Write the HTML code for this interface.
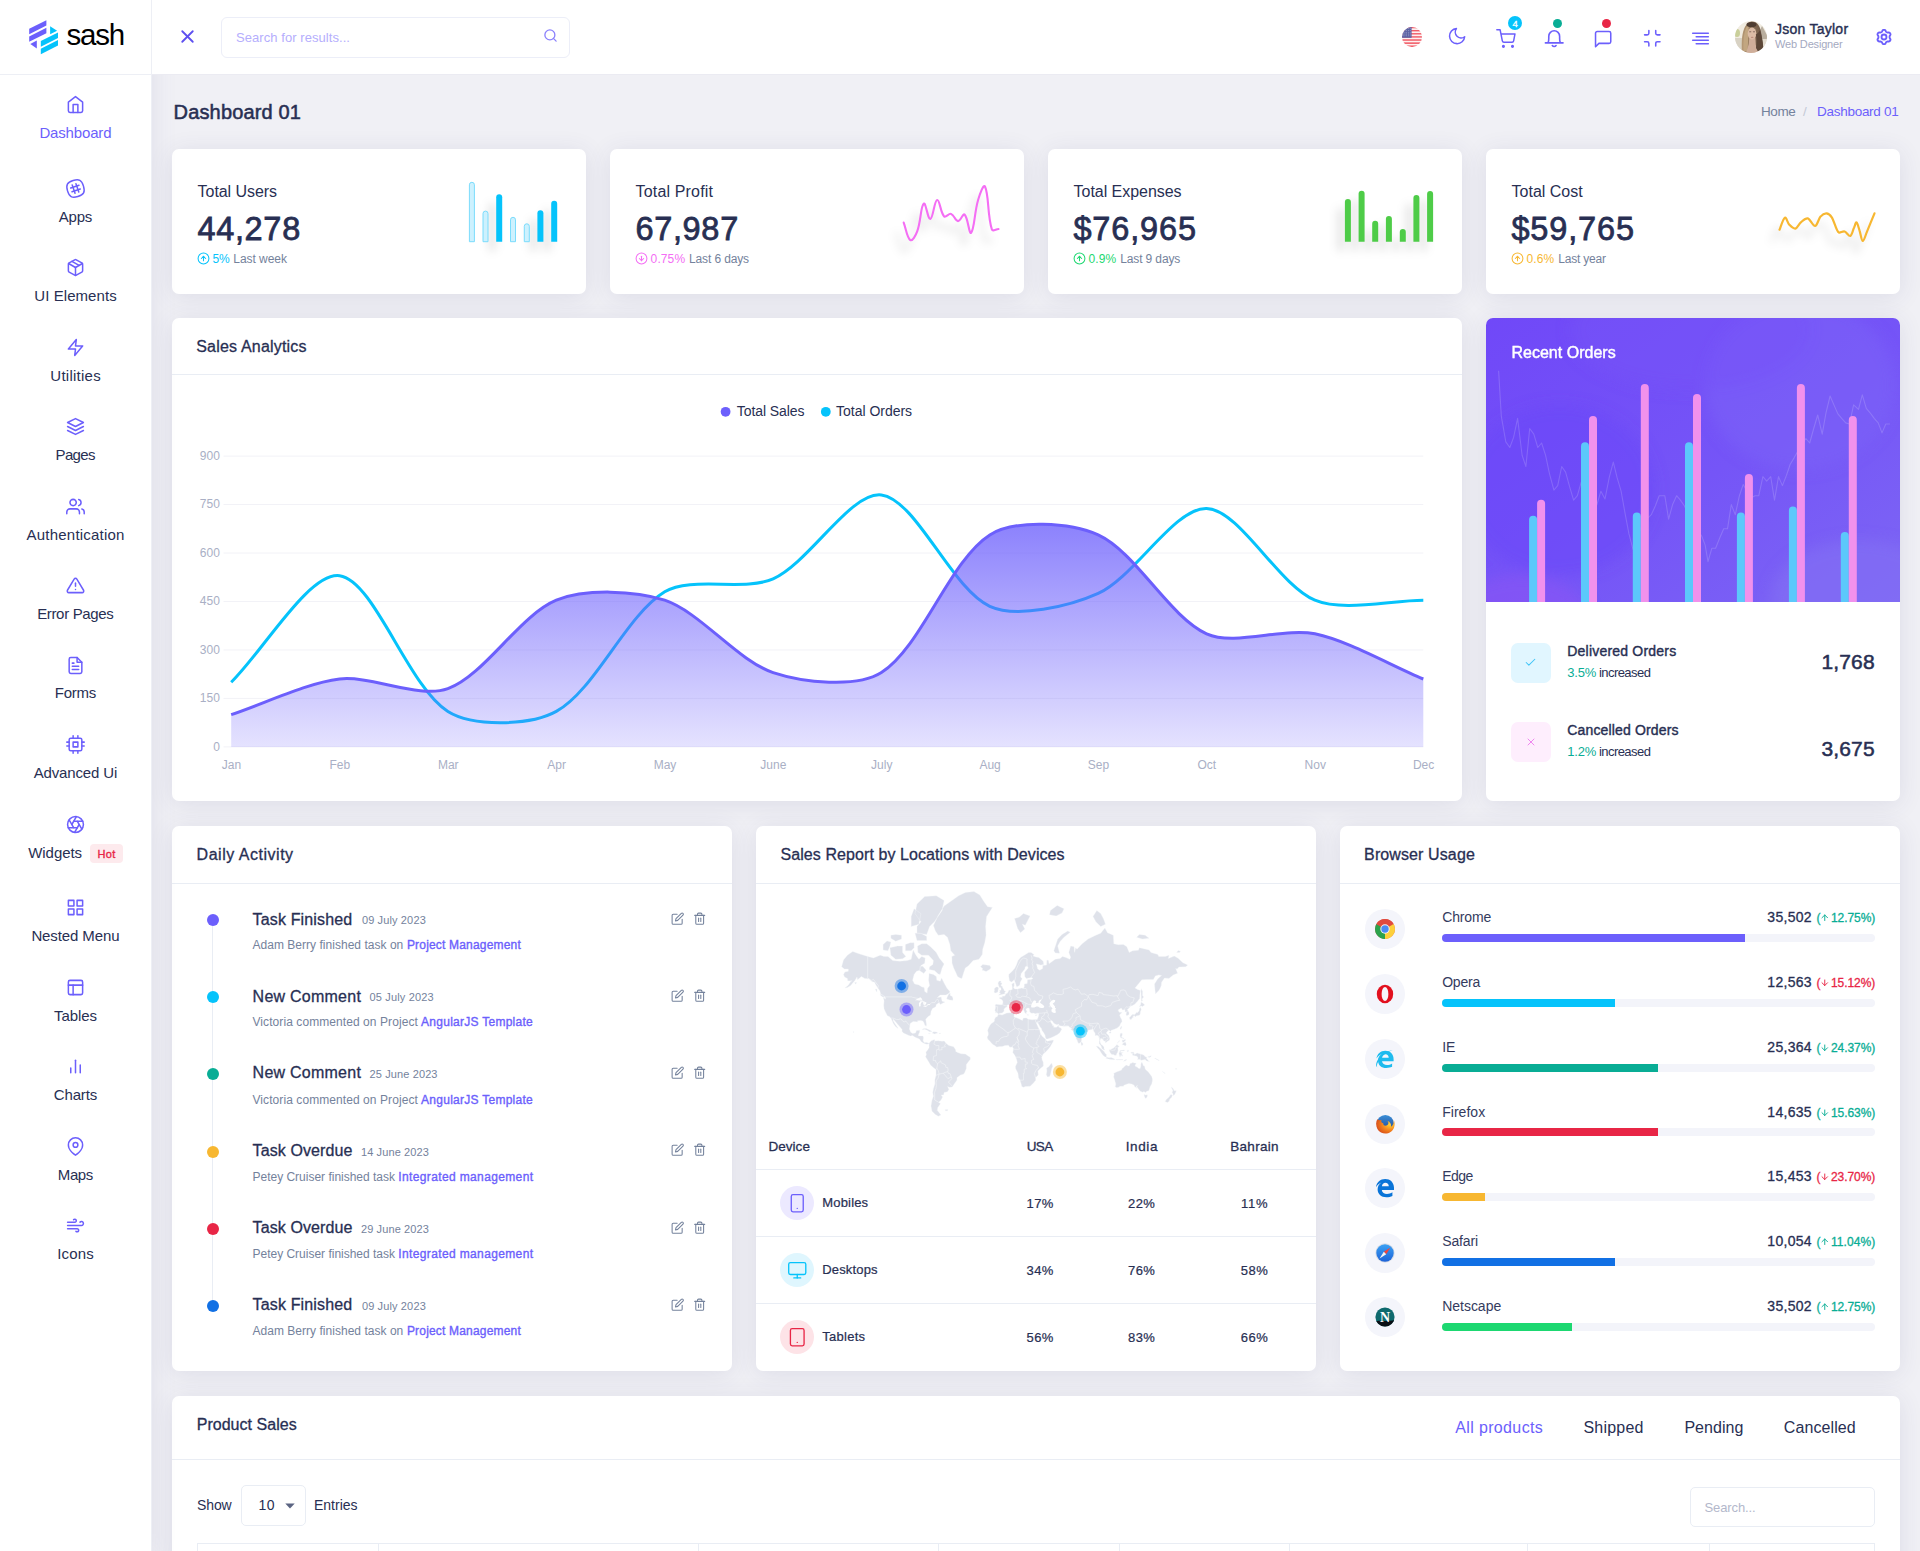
<!DOCTYPE html>
<html lang="en"><head><meta charset="utf-8"><title>Sash - Dashboard 01</title><style>
*{margin:0;padding:0}
html,body{width:1920px;height:1551px;overflow:hidden}
body{background:#f0f0f5;font-family:"Liberation Sans",sans-serif;color:#282f53;position:relative;-webkit-font-smoothing:antialiased}
.abs,.t,.ic{position:absolute}
.t{white-space:pre;line-height:1;font-weight:400;display:block}
h1,h2,h3,h6{font-weight:400}
.ic{display:block;overflow:visible}
.sidebar{background:#fff;box-sizing:border-box;border-right:1px solid #edeff5;box-shadow:0 8px 24px rgba(110,110,160,.12)}
.logo{box-sizing:border-box;border-bottom:1px solid #edeff5;border-right:1px solid #edeff5}
.hdr{background:#fff;box-sizing:border-box;border-bottom:1px solid #ebebf2}
.card{background:#fff;border-radius:7px;box-shadow:0 3px 24px rgba(60,60,110,.105)}
.chead{box-sizing:border-box;border-bottom:1px solid #e9edf4}
</style></head>
<body>
<main>
<section class="card abs" style="left:172px;top:149px;width:414px;height:145px">
<h6 class="t" style="top:34.56px;font-size:16px;left:25.60px;letter-spacing:-0.057px;">Total Users</h6>
<h2 class="t" style="top:64.29px;font-size:32.5px;left:25.40px;letter-spacing:0.682px;-webkit-text-stroke:0.77px currentColor;">44,278</h2>
<svg class="ic" style="left:24.70px;top:102.70px;" width="13" height="13" viewBox="0 0 24 24" fill="none" stroke="#05c3fb" stroke-width="1.9" stroke-linecap="round" stroke-linejoin="round"><circle cx="12" cy="12" r="10"/><polyline points="16 12 12 8 8 12"/><line x1="12" y1="16" x2="12" y2="8"/></svg>
<span class="t" style="top:103.94px;font-size:12px;left:40.60px;color:#05c3fb;letter-spacing:-0.272px;">5%</span>
<span class="t" style="top:103.94px;font-size:12px;left:61.30px;color:#74829c;letter-spacing:-0.048px;">Last week</span>
</section>
<section class="card abs" style="left:610px;top:149px;width:414px;height:145px">
<h6 class="t" style="top:34.56px;font-size:16px;left:25.60px;letter-spacing:0.159px;">Total Profit</h6>
<h2 class="t" style="top:64.29px;font-size:32.5px;left:25.40px;letter-spacing:0.682px;-webkit-text-stroke:0.77px currentColor;">67,987</h2>
<svg class="ic" style="left:24.70px;top:102.70px;" width="13" height="13" viewBox="0 0 24 24" fill="none" stroke="#f46ef4" stroke-width="1.9" stroke-linecap="round" stroke-linejoin="round"><circle cx="12" cy="12" r="10"/><polyline points="8 12 12 16 16 12"/><line x1="12" y1="8" x2="12" y2="16"/></svg>
<span class="t" style="top:103.94px;font-size:12px;left:40.60px;color:#f46ef4;letter-spacing:0.114px;">0.75%</span>
<span class="t" style="top:103.94px;font-size:12px;left:79.00px;color:#74829c;letter-spacing:-0.125px;">Last 6 days</span>
</section>
<section class="card abs" style="left:1048px;top:149px;width:414px;height:145px">
<h6 class="t" style="top:34.56px;font-size:16px;left:25.60px;letter-spacing:-0.037px;">Total Expenses</h6>
<h2 class="t" style="top:64.29px;font-size:32.5px;left:25.40px;letter-spacing:0.859px;-webkit-text-stroke:0.77px currentColor;">$76,965</h2>
<svg class="ic" style="left:24.70px;top:102.70px;" width="13" height="13" viewBox="0 0 24 24" fill="none" stroke="#1dd871" stroke-width="1.9" stroke-linecap="round" stroke-linejoin="round"><circle cx="12" cy="12" r="10"/><polyline points="16 12 12 8 8 12"/><line x1="12" y1="16" x2="12" y2="8"/></svg>
<span class="t" style="top:103.94px;font-size:12px;left:40.60px;color:#1dd871;letter-spacing:0.060px;">0.9%</span>
<span class="t" style="top:103.94px;font-size:12px;left:72.20px;color:#74829c;letter-spacing:-0.125px;">Last 9 days</span>
</section>
<section class="card abs" style="left:1486px;top:149px;width:414px;height:145px">
<h6 class="t" style="top:34.56px;font-size:16px;left:25.60px;letter-spacing:-0.014px;">Total Cost</h6>
<h2 class="t" style="top:64.29px;font-size:32.5px;left:25.40px;letter-spacing:0.859px;-webkit-text-stroke:0.77px currentColor;">$59,765</h2>
<svg class="ic" style="left:24.70px;top:102.70px;" width="13" height="13" viewBox="0 0 24 24" fill="none" stroke="#f7b731" stroke-width="1.9" stroke-linecap="round" stroke-linejoin="round"><circle cx="12" cy="12" r="10"/><polyline points="16 12 12 8 8 12"/><line x1="12" y1="16" x2="12" y2="8"/></svg>
<span class="t" style="top:103.94px;font-size:12px;left:40.60px;color:#f7b731;letter-spacing:0.060px;">0.6%</span>
<span class="t" style="top:103.94px;font-size:12px;left:72.20px;color:#74829c;letter-spacing:-0.184px;">Last year</span>
</section>
<svg class="ic" style="left:440px;top:160px" width="140" height="120" viewBox="440 160 140 120"><defs><filter id="sh1" x="-30%" y="-30%" width="160%" height="180%"><feGaussianBlur stdDeviation="5"/></filter></defs><g filter="url(#sh1)" fill="rgba(20,20,40,0.13)"><path d="M489.20,250.70V206.20A3.00,3.00 0 0 1 495.20,206.20V250.70Z"/><path d="M530.40,250.70V222.20A3.00,3.00 0 0 1 536.40,222.20V250.70Z"/><path d="M544.20,250.70V212.80A3.00,3.00 0 0 1 550.20,212.80V250.70Z"/></g><path d="M469.40,241.70V184.80A2.50,2.50 0 0 1 474.40,184.80V241.70Z" fill="#cdf1fe" stroke="#7bdcfc" stroke-width="1"/><path d="M483.00,241.70V213.60A2.50,2.50 0 0 1 488.00,213.60V241.70Z" fill="#cdf1fe" stroke="#7bdcfc" stroke-width="1"/><path d="M496.20,241.70V197.20A3.00,3.00 0 0 1 502.20,197.20V241.70Z" fill="#05c3fb"/><path d="M510.50,241.70V219.80A2.50,2.50 0 0 1 515.50,219.80V241.70Z" fill="#cdf1fe" stroke="#7bdcfc" stroke-width="1"/><path d="M524.30,241.70V226.30A2.50,2.50 0 0 1 529.30,226.30V241.70Z" fill="#cdf1fe" stroke="#7bdcfc" stroke-width="1"/><path d="M537.40,241.70V213.20A3.00,3.00 0 0 1 543.40,213.20V241.70Z" fill="#05c3fb"/><path d="M551.20,241.70V203.80A3.00,3.00 0 0 1 557.20,203.80V241.70Z" fill="#05c3fb"/></svg>
<svg class="ic" style="left:870px;top:160px" width="150" height="120" viewBox="870 160 150 120"><defs><filter id="sh2" x="-30%" y="-50%" width="160%" height="250%"><feGaussianBlur stdDeviation="4.5"/></filter></defs><path d="M903.7,222.6C906.3,229.6 906.9,237.9 910.3,240.1C912.3,241.4 915.7,235.5 917.2,231.4C921.1,220.9 920.5,206.7 923.8,203.6C925.7,201.8 927.9,219.7 930.3,219.0C933.2,218.2 934.2,200.6 937.2,200.0C939.8,199.5 940.3,212.5 944.2,216.4C945.8,218.0 948.8,213.1 951.1,213.9C954.3,215.0 955.2,221.0 958.0,221.1C960.6,221.2 962.9,213.1 964.6,214.6C968.1,217.8 969.1,234.9 971.1,232.8C974.5,229.1 974.3,212.8 978.1,200.0C979.8,194.2 983.6,183.5 985.0,186.5C989.1,195.3 987.2,214.7 991.9,229.5C992.6,231.7 995.9,229.2 998.5,229.0" fill="none" stroke="rgba(20,20,40,0.075)" stroke-width="4.1" stroke-linecap="round" filter="url(#sh2)" transform="translate(-7,11)"/><path d="M903.7,222.6C906.3,229.6 906.9,237.9 910.3,240.1C912.3,241.4 915.7,235.5 917.2,231.4C921.1,220.9 920.5,206.7 923.8,203.6C925.7,201.8 927.9,219.7 930.3,219.0C933.2,218.2 934.2,200.6 937.2,200.0C939.8,199.5 940.3,212.5 944.2,216.4C945.8,218.0 948.8,213.1 951.1,213.9C954.3,215.0 955.2,221.0 958.0,221.1C960.6,221.2 962.9,213.1 964.6,214.6C968.1,217.8 969.1,234.9 971.1,232.8C974.5,229.1 974.3,212.8 978.1,200.0C979.8,194.2 983.6,183.5 985.0,186.5C989.1,195.3 987.2,214.7 991.9,229.5C992.6,231.7 995.9,229.2 998.5,229.0" fill="none" stroke="#f46ef4" stroke-width="2.1" stroke-linecap="round" stroke-linejoin="round"/></svg>
<svg class="ic" style="left:1316px;top:160px" width="140" height="120" viewBox="1316 160 140 120"><defs><filter id="sh3" x="-30%" y="-30%" width="160%" height="180%"><feGaussianBlur stdDeviation="5"/></filter></defs><g filter="url(#sh3)" fill="rgba(20,20,40,0.13)"><path d="M1337.90,250.70V211.10A3.00,3.00 0 0 1 1343.90,211.10V250.70Z"/><path d="M1351.60,250.70V202.70A3.00,3.00 0 0 1 1357.60,202.70V250.70Z"/><path d="M1365.20,250.70V232.80A3.00,3.00 0 0 1 1371.20,232.80V250.70Z"/><path d="M1378.90,250.70V228.00A3.00,3.00 0 0 1 1384.90,228.00V250.70Z"/><path d="M1392.80,250.70V241.00A3.00,3.00 0 0 1 1398.80,241.00V250.70Z"/><path d="M1406.40,250.70V207.00A3.00,3.00 0 0 1 1412.40,207.00V250.70Z"/><path d="M1420.10,250.70V202.90A3.00,3.00 0 0 1 1426.10,202.90V250.70Z"/></g><path d="M1344.90,241.70V202.10A3.00,3.00 0 0 1 1350.90,202.10V241.70Z" fill="#4ecc48"/><path d="M1358.60,241.70V193.70A3.00,3.00 0 0 1 1364.60,193.70V241.70Z" fill="#4ecc48"/><path d="M1372.20,241.70V223.80A3.00,3.00 0 0 1 1378.20,223.80V241.70Z" fill="#4ecc48"/><path d="M1385.90,241.70V219.00A3.00,3.00 0 0 1 1391.90,219.00V241.70Z" fill="#4ecc48"/><path d="M1399.80,241.70V232.00A3.00,3.00 0 0 1 1405.80,232.00V241.70Z" fill="#4ecc48"/><path d="M1413.40,241.70V198.00A3.00,3.00 0 0 1 1419.40,198.00V241.70Z" fill="#4ecc48"/><path d="M1427.10,241.70V193.90A3.00,3.00 0 0 1 1433.10,193.90V241.70Z" fill="#4ecc48"/></svg>
<svg class="ic" style="left:1750px;top:170px" width="150" height="120" viewBox="1750 170 150 120"><defs><filter id="sh4" x="-30%" y="-50%" width="160%" height="250%"><feGaussianBlur stdDeviation="4.5"/></filter></defs><path d="M1779.5,229.7C1780.4,227.7 1783.2,218.5 1784.8,217.7C1786.4,216.8 1787.4,222.8 1789.2,224.6C1790.9,226.4 1793.4,229.0 1795.4,228.6C1797.3,228.2 1798.8,224.1 1800.8,222.4C1802.9,220.7 1805.4,217.8 1807.8,218.4C1810.1,219.0 1812.9,226.3 1815.1,226.0C1817.2,225.7 1818.6,218.7 1820.5,216.6C1822.4,214.4 1824.5,213.2 1826.4,213.3C1828.2,213.4 1830.1,214.7 1831.8,217.3C1833.5,219.9 1835.3,226.4 1836.6,229.0C1837.8,231.5 1837.8,232.2 1839.1,232.6C1840.5,233.0 1842.7,231.0 1844.6,231.5C1846.5,232.1 1848.8,236.6 1850.4,235.9C1852.0,235.2 1853.0,229.7 1854.1,227.5C1855.1,225.3 1855.7,221.9 1856.6,222.4C1857.5,222.9 1858.5,227.3 1859.5,230.4C1860.6,233.5 1861.5,240.9 1862.8,241.0C1864.1,241.1 1865.2,235.8 1867.2,231.1C1869.1,226.5 1873.3,216.3 1874.5,213.3" fill="none" stroke="rgba(20,20,40,0.075)" stroke-width="4.2" stroke-linecap="round" filter="url(#sh4)" transform="translate(-7,11)"/><path d="M1779.5,229.7C1780.4,227.7 1783.2,218.5 1784.8,217.7C1786.4,216.8 1787.4,222.8 1789.2,224.6C1790.9,226.4 1793.4,229.0 1795.4,228.6C1797.3,228.2 1798.8,224.1 1800.8,222.4C1802.9,220.7 1805.4,217.8 1807.8,218.4C1810.1,219.0 1812.9,226.3 1815.1,226.0C1817.2,225.7 1818.6,218.7 1820.5,216.6C1822.4,214.4 1824.5,213.2 1826.4,213.3C1828.2,213.4 1830.1,214.7 1831.8,217.3C1833.5,219.9 1835.3,226.4 1836.6,229.0C1837.8,231.5 1837.8,232.2 1839.1,232.6C1840.5,233.0 1842.7,231.0 1844.6,231.5C1846.5,232.1 1848.8,236.6 1850.4,235.9C1852.0,235.2 1853.0,229.7 1854.1,227.5C1855.1,225.3 1855.7,221.9 1856.6,222.4C1857.5,222.9 1858.5,227.3 1859.5,230.4C1860.6,233.5 1861.5,240.9 1862.8,241.0C1864.1,241.1 1865.2,235.8 1867.2,231.1C1869.1,226.5 1873.3,216.3 1874.5,213.3" fill="none" stroke="#f7b731" stroke-width="2.2" stroke-linecap="round" stroke-linejoin="round"/></svg>
<section class="card abs" style="left:172px;top:318px;width:1290px;height:483px">
<div class="abs chead" style="left:0;top:0;width:1290px;height:57px"></div>
<h3 class="t" style="top:20.76px;font-size:16px;left:24.20px;letter-spacing:0.193px;-webkit-text-stroke:0.3px currentColor;">Sales Analytics</h3>
</section>
<svg class="ic" style="left:172px;top:376px" width="1290" height="425" viewBox="172 376 1290 425"><defs><linearGradient id="sg" gradientUnits="userSpaceOnUse" x1="0" y1="500" x2="0" y2="750"><stop offset="0" stop-color="#6c5ffc" stop-opacity="0.85"/><stop offset="1" stop-color="#6c5ffc" stop-opacity="0.17"/></linearGradient></defs><line x1="223.5" x2="1423.3" y1="456.10" y2="456.10" stroke="#f2f2f7" stroke-width="1"/><line x1="223.5" x2="1423.3" y1="504.57" y2="504.57" stroke="#f2f2f7" stroke-width="1"/><line x1="223.5" x2="1423.3" y1="553.03" y2="553.03" stroke="#f2f2f7" stroke-width="1"/><line x1="223.5" x2="1423.3" y1="601.50" y2="601.50" stroke="#f2f2f7" stroke-width="1"/><line x1="223.5" x2="1423.3" y1="649.97" y2="649.97" stroke="#f2f2f7" stroke-width="1"/><line x1="223.5" x2="1423.3" y1="698.43" y2="698.43" stroke="#f2f2f7" stroke-width="1"/><line x1="223.5" x2="1423.3" y1="746.90" y2="746.90" stroke="#f2f2f7" stroke-width="1"/><path d="M231.2,682.3C263.7,650.3 309.2,571.6 339.6,575.7C374.2,580.3 407.9,686.3 447.9,711.4C472.9,727.0 530.2,725.8 556.3,711.4C595.2,689.9 625.9,615.5 664.7,591.8C690.9,575.8 744.2,591.8 773.1,578.9C809.3,562.7 851.0,491.0 881.4,494.9C916.0,499.3 951.6,589.0 989.8,606.3C1016.6,618.5 1069.4,606.4 1098.2,593.4C1134.5,577.0 1174.5,507.4 1206.6,508.4C1239.6,509.5 1278.0,584.6 1314.9,600.2C1343.1,612.1 1390.8,600.2 1423.3,600.2" fill="none" stroke="#05c3fb" stroke-width="3" stroke-linecap="butt" stroke-linejoin="round"/><path d="M231.2,714.6C263.7,703.9 306.3,683.0 339.6,679.0C371.3,675.3 419.5,699.1 447.9,688.7C484.5,675.4 519.7,615.2 556.3,600.2C584.7,588.6 635.2,590.3 664.7,600.2C700.2,612.1 737.6,660.7 773.1,672.6C802.6,682.4 856.6,688.4 881.4,672.6C921.6,647.1 949.6,560.5 989.8,534.9C1014.7,519.2 1070.6,522.3 1098.2,534.9C1135.6,552.0 1169.2,616.8 1206.6,633.8C1234.2,646.4 1283.7,627.3 1314.9,633.8C1348.7,640.9 1390.8,665.5 1423.3,679.0L1423.3,746.9L231.2,746.9Z" fill="url(#sg)"/><path d="M231.2,714.6C263.7,703.9 306.3,683.0 339.6,679.0C371.3,675.3 419.5,699.1 447.9,688.7C484.5,675.4 519.7,615.2 556.3,600.2C584.7,588.6 635.2,590.3 664.7,600.2C700.2,612.1 737.6,660.7 773.1,672.6C802.6,682.4 856.6,688.4 881.4,672.6C921.6,647.1 949.6,560.5 989.8,534.9C1014.7,519.2 1070.6,522.3 1098.2,534.9C1135.6,552.0 1169.2,616.8 1206.6,633.8C1234.2,646.4 1283.7,627.3 1314.9,633.8C1348.7,640.9 1390.8,665.5 1423.3,679.0" fill="none" stroke="#6c5ffc" stroke-width="3" stroke-linecap="butt" stroke-linejoin="round"/><circle cx="725.6" cy="411.8" r="4.9" fill="#6c5ffc"/><circle cx="825.8" cy="411.8" r="4.9" fill="#05c3fb"/></svg>
<span class="t" style="top:404.05px;font-size:14px;left:736.80px;letter-spacing:-0.071px;">Total Sales</span>
<span class="t" style="top:404.05px;font-size:14px;left:836.10px;letter-spacing:-0.021px;">Total Orders</span>
<span class="t" style="top:449.94px;font-size:12px;left:199.87px;color:#a9afc5;">900</span>
<span class="t" style="top:498.41px;font-size:12px;left:199.87px;color:#a9afc5;">750</span>
<span class="t" style="top:546.88px;font-size:12px;left:199.87px;color:#a9afc5;">600</span>
<span class="t" style="top:595.34px;font-size:12px;left:199.87px;color:#a9afc5;">450</span>
<span class="t" style="top:643.81px;font-size:12px;left:199.87px;color:#a9afc5;">300</span>
<span class="t" style="top:692.28px;font-size:12px;left:199.87px;color:#a9afc5;">150</span>
<span class="t" style="top:740.74px;font-size:12px;left:213.21px;color:#a9afc5;">0</span>
<span class="t" style="top:758.94px;font-size:12px;left:221.82px;color:#a9afc5;">Jan</span>
<span class="t" style="top:758.94px;font-size:12px;left:329.53px;color:#a9afc5;">Feb</span>
<span class="t" style="top:758.94px;font-size:12px;left:437.91px;color:#a9afc5;">Mar</span>
<span class="t" style="top:758.94px;font-size:12px;left:547.27px;color:#a9afc5;">Apr</span>
<span class="t" style="top:758.94px;font-size:12px;left:653.65px;color:#a9afc5;">May</span>
<span class="t" style="top:758.94px;font-size:12px;left:760.35px;color:#a9afc5;">June</span>
<span class="t" style="top:758.94px;font-size:12px;left:871.06px;color:#a9afc5;">July</span>
<span class="t" style="top:758.94px;font-size:12px;left:979.43px;color:#a9afc5;">Aug</span>
<span class="t" style="top:758.94px;font-size:12px;left:1087.80px;color:#a9afc5;">Sep</span>
<span class="t" style="top:758.94px;font-size:12px;left:1197.52px;color:#a9afc5;">Oct</span>
<span class="t" style="top:758.94px;font-size:12px;left:1304.56px;color:#a9afc5;">Nov</span>
<span class="t" style="top:758.94px;font-size:12px;left:1412.93px;color:#a9afc5;">Dec</span>
<section class="card abs" style="left:1486px;top:318px;width:414px;height:483px;overflow:hidden">
<svg class="ic" style="left:0;top:0;overflow:hidden" width="414" height="284" viewBox="1486 318 414 284"><defs><linearGradient id="pg" x1="0" y1="0" x2="1" y2="1"><stop offset="0" stop-color="#7048f8"/><stop offset="0.55" stop-color="#7555f7"/><stop offset="1" stop-color="#7d66f4"/></linearGradient><filter id="pb" x="-20%" y="-20%" width="140%" height="140%"><feGaussianBlur stdDeviation="7"/></filter></defs><rect x="1486" y="318" width="414" height="284" fill="url(#pg)"/><g filter="url(#pb)"><ellipse cx="1560" cy="490" rx="95" ry="85" fill="#6848f9" opacity="0.5"/><ellipse cx="1800" cy="385" rx="95" ry="85" fill="#7c63f7" opacity="0.55"/><ellipse cx="1690" cy="330" rx="120" ry="60" fill="#7552f8" opacity="0.5"/><ellipse cx="1520" cy="620" rx="70" ry="45" fill="#8a55f3" opacity="0.6"/><ellipse cx="1860" cy="600" rx="90" ry="60" fill="#8470f3" opacity="0.6"/></g><polyline points="1498.6,370.7 1501.3,416.1 1505.8,441.9 1509.8,447.5 1513.6,437.4 1517.6,418.4 1522.1,455.3 1525.9,466.5 1529.7,428.5 1533.8,434.1 1537.8,447.5 1541.6,443.0 1545.6,455.3 1549.4,473.3 1553.9,490.1 1557.7,485.6 1561.7,466.5 1565.6,472.1 1569.6,486.7 1573.6,500.1 1577.4,495.7 1581.2,482.2 1585.3,488.9 1589.3,502.4 1593.1,513.6 1596.9,504.6 1600.9,491.2 1605.0,499.0 1609.2,477.7 1613.3,462.1 1617.1,477.7 1621.1,491.2 1625.1,513.6 1628.9,533.7 1633.0,549.4 1636.8,538.2 1641.3,527.0 1645.7,520.3 1651.3,514.7 1655.4,505.7 1659.2,495.7 1664.8,495.7 1668.6,519.2 1672.6,504.6 1676.6,495.7 1680.4,500.1 1684.3,505.7 1688.3,513.6 1692.8,522.5 1697.2,529.2 1701.7,536.0 1705.1,544.9 1708.0,561.7 1711.8,548.3 1715.6,548.3 1719.6,538.2 1723.7,528.8 1727.5,528.8 1731.3,504.6 1735.3,514.7 1739.4,495.7 1743.2,484.5 1747.0,491.2 1751.0,497.9 1755.0,495.7 1758.8,495.7 1762.9,476.6 1766.7,481.1 1770.7,476.6 1774.5,500.1 1778.5,476.6 1782.4,485.6 1786.4,475.5 1790.2,464.3 1794.2,457.6 1798.0,450.9 1802.1,444.1 1805.9,438.5 1809.7,443.0 1813.7,428.5 1817.7,415.0 1822.2,434.1 1826.0,412.8 1830.1,396.0 1833.9,404.9 1837.9,413.9 1841.7,418.4 1845.7,422.9 1849.5,424.0 1853.6,404.9 1858.5,409.4 1862.3,394.9 1866.3,408.3 1870.1,412.8 1874.2,418.4 1878.2,422.9 1882.0,432.9 1885.8,424.0 1889.9,424.0" fill="none" stroke="#fff" stroke-opacity="0.16" stroke-width="1.1" stroke-linejoin="round"/><path d="M1529.1,603V519.8a4,4 0 0 1 8,0V603Z" fill="#5cc8fb"/><path d="M1581.0,603V446.3a4,4 0 0 1 8,0V603Z" fill="#5cc8fb"/><path d="M1632.8,603V516.4a4,4 0 0 1 8,0V603Z" fill="#5cc8fb"/><path d="M1685.0,603V446.3a4,4 0 0 1 8,0V603Z" fill="#5cc8fb"/><path d="M1736.9,603V516.4a4,4 0 0 1 8,0V603Z" fill="#5cc8fb"/><path d="M1788.9,603V510.4a4,4 0 0 1 8,0V603Z" fill="#5cc8fb"/><path d="M1840.8,603V535.9a4,4 0 0 1 8,0V603Z" fill="#5cc8fb"/><path d="M1537.1,603V503.7a4,4 0 0 1 8,0V603Z" fill="#f191ec"/><path d="M1589.0,603V420.1a4,4 0 0 1 8,0V603Z" fill="#f191ec"/><path d="M1640.8,603V388.1a4,4 0 0 1 8,0V603Z" fill="#f191ec"/><path d="M1693.0,603V398.0a4,4 0 0 1 8,0V603Z" fill="#f191ec"/><path d="M1744.9,603V478.1a4,4 0 0 1 8,0V603Z" fill="#f191ec"/><path d="M1796.9,603V388.1a4,4 0 0 1 8,0V603Z" fill="#f191ec"/><path d="M1848.8,603V420.1a4,4 0 0 1 8,0V603Z" fill="#f191ec"/></svg>
<h3 class="t" style="top:27.36px;font-size:16px;left:25.40px;color:#fff;letter-spacing:0.019px;-webkit-text-stroke:0.44px currentColor;">Recent Orders</h3>
<span class="abs" style="left:25px;top:325px;width:40px;height:40px;border-radius:7px;background:#e1f6ff"></span>
<svg class="ic" style="left:38.40px;top:338.00px;" width="13" height="13" viewBox="0 0 24 24" fill="none" stroke="#3fc4f7" stroke-width="1.9" stroke-linecap="round" stroke-linejoin="round"><polyline points="20 6 9 17 4 12"/></svg>
<span class="t" style="top:326.15px;font-size:14px;left:81.30px;letter-spacing:0.204px;-webkit-text-stroke:0.4px currentColor;">Delivered Orders</span>
<span class="t" style="top:348.30px;font-size:13px;left:81.30px;color:#09ad95;letter-spacing:-0.235px;">3.5%</span>
<span class="t" style="top:348.30px;font-size:13px;left:113.00px;letter-spacing:-0.564px;">increased</span>
<span class="t" style="top:333.12px;font-size:21px;left:335.53px;letter-spacing:0.128px;-webkit-text-stroke:0.54px currentColor;">1,768</span>
<span class="abs" style="left:25px;top:404px;width:40px;height:40px;border-radius:7px;background:#feeefd"></span>
<svg class="ic" style="left:38.90px;top:417.50px;" width="12" height="12" viewBox="0 0 24 24" fill="none" stroke="#ee82ee" stroke-width="1.9" stroke-linecap="round" stroke-linejoin="round"><line x1="18" y1="6" x2="6" y2="18"/><line x1="6" y1="6" x2="18" y2="18"/></svg>
<span class="t" style="top:405.15px;font-size:14px;left:81.30px;letter-spacing:0.154px;-webkit-text-stroke:0.4px currentColor;">Cancelled Orders</span>
<span class="t" style="top:426.70px;font-size:13px;left:81.30px;color:#09ad95;letter-spacing:-0.235px;">1.2%</span>
<span class="t" style="top:426.70px;font-size:13px;left:113.00px;letter-spacing:-0.564px;">increased</span>
<span class="t" style="top:420.32px;font-size:21px;left:335.53px;letter-spacing:0.128px;-webkit-text-stroke:0.54px currentColor;">3,675</span>
</section>
<section class="card abs" style="left:172px;top:826px;width:560px;height:545px">
<div class="abs chead" style="left:0;top:0;width:560px;height:58px"></div>
<h3 class="t" style="top:21.06px;font-size:16px;left:24.60px;letter-spacing:0.515px;-webkit-text-stroke:0.3px currentColor;">Daily Activity</h3>
<span class="abs" style="left:40.2px;top:94px;width:1px;height:386px;background:#e9edf4"></span>
<span class="abs" style="left:35px;top:87.9px;width:12px;height:12px;border-radius:50%;background:#6c5ffc"></span>
<h6 class="t" style="top:85.56px;font-size:16px;left:80.60px;letter-spacing:0.144px;-webkit-text-stroke:0.3px currentColor;">Task Finished</h6>
<span class="t" style="top:88.99px;font-size:11px;left:189.90px;color:#74829c;letter-spacing:0.134px;">09 July 2023</span>
<span class="t" style="top:112.74px;font-size:12px;left:80.50px;color:#74829c;letter-spacing:0.027px;">Adam Berry finished task on</span>
<span class="t" style="top:112.74px;font-size:12px;left:234.90px;color:#6c5ffc;letter-spacing:0.187px;-webkit-text-stroke:0.36px currentColor;">Project Management</span>
<svg class="ic" style="left:499.30px;top:85.70px;" width="13.4" height="13.4" viewBox="0 0 24 24" fill="none" stroke="#74829c" stroke-width="1.9" stroke-linecap="round" stroke-linejoin="round"><path d="M11 4H4a2 2 0 0 0-2 2v14a2 2 0 0 0 2 2h14a2 2 0 0 0 2-2v-7"/><path d="M18.5 2.5a2.121 2.121 0 0 1 3 3L12 15l-4 1 1-4 9.5-9.5z"/></svg>
<svg class="ic" style="left:521.30px;top:85.70px;" width="13.4" height="13.4" viewBox="0 0 24 24" fill="none" stroke="#74829c" stroke-width="1.9" stroke-linecap="round" stroke-linejoin="round"><polyline points="3 6 5 6 21 6"/><path d="M19 6v14a2 2 0 0 1-2 2H7a2 2 0 0 1-2-2V6m3 0V4a2 2 0 0 1 2-2h4a2 2 0 0 1 2 2v2"/><line x1="10" y1="11" x2="10" y2="17"/><line x1="14" y1="11" x2="14" y2="17"/></svg>
<span class="abs" style="left:35px;top:164.9px;width:12px;height:12px;border-radius:50%;background:#05c3fb"></span>
<h6 class="t" style="top:162.56px;font-size:16px;left:80.60px;letter-spacing:0.244px;-webkit-text-stroke:0.3px currentColor;">New Comment</h6>
<span class="t" style="top:165.99px;font-size:11px;left:197.50px;color:#74829c;letter-spacing:0.167px;">05 July 2023</span>
<span class="t" style="top:189.54px;font-size:12px;left:80.50px;color:#74829c;letter-spacing:0.076px;">Victoria commented on Project</span>
<span class="t" style="top:189.54px;font-size:12px;left:249.10px;color:#6c5ffc;letter-spacing:0.262px;-webkit-text-stroke:0.36px currentColor;">AngularJS Template</span>
<svg class="ic" style="left:499.30px;top:162.70px;" width="13.4" height="13.4" viewBox="0 0 24 24" fill="none" stroke="#74829c" stroke-width="1.9" stroke-linecap="round" stroke-linejoin="round"><path d="M11 4H4a2 2 0 0 0-2 2v14a2 2 0 0 0 2 2h14a2 2 0 0 0 2-2v-7"/><path d="M18.5 2.5a2.121 2.121 0 0 1 3 3L12 15l-4 1 1-4 9.5-9.5z"/></svg>
<svg class="ic" style="left:521.30px;top:162.70px;" width="13.4" height="13.4" viewBox="0 0 24 24" fill="none" stroke="#74829c" stroke-width="1.9" stroke-linecap="round" stroke-linejoin="round"><polyline points="3 6 5 6 21 6"/><path d="M19 6v14a2 2 0 0 1-2 2H7a2 2 0 0 1-2-2V6m3 0V4a2 2 0 0 1 2-2h4a2 2 0 0 1 2 2v2"/><line x1="10" y1="11" x2="10" y2="17"/><line x1="14" y1="11" x2="14" y2="17"/></svg>
<span class="abs" style="left:35px;top:241.8px;width:12px;height:12px;border-radius:50%;background:#09ad95"></span>
<h6 class="t" style="top:239.46px;font-size:16px;left:80.60px;letter-spacing:0.244px;-webkit-text-stroke:0.3px currentColor;">New Comment</h6>
<span class="t" style="top:242.89px;font-size:11px;left:197.50px;color:#74829c;letter-spacing:0.119px;">25 June 2023</span>
<span class="t" style="top:267.64px;font-size:12px;left:80.50px;color:#74829c;letter-spacing:0.076px;">Victoria commented on Project</span>
<span class="t" style="top:267.64px;font-size:12px;left:249.10px;color:#6c5ffc;letter-spacing:0.262px;-webkit-text-stroke:0.36px currentColor;">AngularJS Template</span>
<svg class="ic" style="left:499.30px;top:239.60px;" width="13.4" height="13.4" viewBox="0 0 24 24" fill="none" stroke="#74829c" stroke-width="1.9" stroke-linecap="round" stroke-linejoin="round"><path d="M11 4H4a2 2 0 0 0-2 2v14a2 2 0 0 0 2 2h14a2 2 0 0 0 2-2v-7"/><path d="M18.5 2.5a2.121 2.121 0 0 1 3 3L12 15l-4 1 1-4 9.5-9.5z"/></svg>
<svg class="ic" style="left:521.30px;top:239.60px;" width="13.4" height="13.4" viewBox="0 0 24 24" fill="none" stroke="#74829c" stroke-width="1.9" stroke-linecap="round" stroke-linejoin="round"><polyline points="3 6 5 6 21 6"/><path d="M19 6v14a2 2 0 0 1-2 2H7a2 2 0 0 1-2-2V6m3 0V4a2 2 0 0 1 2-2h4a2 2 0 0 1 2 2v2"/><line x1="10" y1="11" x2="10" y2="17"/><line x1="14" y1="11" x2="14" y2="17"/></svg>
<span class="abs" style="left:35px;top:319.6px;width:12px;height:12px;border-radius:50%;background:#f7b731"></span>
<h6 class="t" style="top:317.26px;font-size:16px;left:80.60px;letter-spacing:0.098px;-webkit-text-stroke:0.3px currentColor;">Task Overdue</h6>
<span class="t" style="top:320.69px;font-size:11px;left:188.90px;color:#74829c;letter-spacing:0.119px;">14 June 2023</span>
<span class="t" style="top:344.74px;font-size:12px;left:80.50px;color:#74829c;letter-spacing:-0.009px;">Petey Cruiser finished task</span>
<span class="t" style="top:344.74px;font-size:12px;left:226.30px;color:#6c5ffc;letter-spacing:0.366px;-webkit-text-stroke:0.36px currentColor;">Integrated management</span>
<svg class="ic" style="left:499.30px;top:317.40px;" width="13.4" height="13.4" viewBox="0 0 24 24" fill="none" stroke="#74829c" stroke-width="1.9" stroke-linecap="round" stroke-linejoin="round"><path d="M11 4H4a2 2 0 0 0-2 2v14a2 2 0 0 0 2 2h14a2 2 0 0 0 2-2v-7"/><path d="M18.5 2.5a2.121 2.121 0 0 1 3 3L12 15l-4 1 1-4 9.5-9.5z"/></svg>
<svg class="ic" style="left:521.30px;top:317.40px;" width="13.4" height="13.4" viewBox="0 0 24 24" fill="none" stroke="#74829c" stroke-width="1.9" stroke-linecap="round" stroke-linejoin="round"><polyline points="3 6 5 6 21 6"/><path d="M19 6v14a2 2 0 0 1-2 2H7a2 2 0 0 1-2-2V6m3 0V4a2 2 0 0 1 2-2h4a2 2 0 0 1 2 2v2"/><line x1="10" y1="11" x2="10" y2="17"/><line x1="14" y1="11" x2="14" y2="17"/></svg>
<span class="abs" style="left:35px;top:396.7px;width:12px;height:12px;border-radius:50%;background:#e82646"></span>
<h6 class="t" style="top:394.36px;font-size:16px;left:80.60px;letter-spacing:0.098px;-webkit-text-stroke:0.3px currentColor;">Task Overdue</h6>
<span class="t" style="top:397.79px;font-size:11px;left:188.90px;color:#74829c;letter-spacing:0.119px;">29 June 2023</span>
<span class="t" style="top:421.54px;font-size:12px;left:80.50px;color:#74829c;letter-spacing:-0.009px;">Petey Cruiser finished task</span>
<span class="t" style="top:421.54px;font-size:12px;left:226.30px;color:#6c5ffc;letter-spacing:0.366px;-webkit-text-stroke:0.36px currentColor;">Integrated management</span>
<svg class="ic" style="left:499.30px;top:394.50px;" width="13.4" height="13.4" viewBox="0 0 24 24" fill="none" stroke="#74829c" stroke-width="1.9" stroke-linecap="round" stroke-linejoin="round"><path d="M11 4H4a2 2 0 0 0-2 2v14a2 2 0 0 0 2 2h14a2 2 0 0 0 2-2v-7"/><path d="M18.5 2.5a2.121 2.121 0 0 1 3 3L12 15l-4 1 1-4 9.5-9.5z"/></svg>
<svg class="ic" style="left:521.30px;top:394.50px;" width="13.4" height="13.4" viewBox="0 0 24 24" fill="none" stroke="#74829c" stroke-width="1.9" stroke-linecap="round" stroke-linejoin="round"><polyline points="3 6 5 6 21 6"/><path d="M19 6v14a2 2 0 0 1-2 2H7a2 2 0 0 1-2-2V6m3 0V4a2 2 0 0 1 2-2h4a2 2 0 0 1 2 2v2"/><line x1="10" y1="11" x2="10" y2="17"/><line x1="14" y1="11" x2="14" y2="17"/></svg>
<span class="abs" style="left:35px;top:473.8px;width:12px;height:12px;border-radius:50%;background:#1170e4"></span>
<h6 class="t" style="top:471.46px;font-size:16px;left:80.60px;letter-spacing:0.144px;-webkit-text-stroke:0.3px currentColor;">Task Finished</h6>
<span class="t" style="top:474.89px;font-size:11px;left:189.90px;color:#74829c;letter-spacing:0.134px;">09 July 2023</span>
<span class="t" style="top:498.54px;font-size:12px;left:80.50px;color:#74829c;letter-spacing:0.027px;">Adam Berry finished task on</span>
<span class="t" style="top:498.54px;font-size:12px;left:234.90px;color:#6c5ffc;letter-spacing:0.187px;-webkit-text-stroke:0.36px currentColor;">Project Management</span>
<svg class="ic" style="left:499.30px;top:471.60px;" width="13.4" height="13.4" viewBox="0 0 24 24" fill="none" stroke="#74829c" stroke-width="1.9" stroke-linecap="round" stroke-linejoin="round"><path d="M11 4H4a2 2 0 0 0-2 2v14a2 2 0 0 0 2 2h14a2 2 0 0 0 2-2v-7"/><path d="M18.5 2.5a2.121 2.121 0 0 1 3 3L12 15l-4 1 1-4 9.5-9.5z"/></svg>
<svg class="ic" style="left:521.30px;top:471.60px;" width="13.4" height="13.4" viewBox="0 0 24 24" fill="none" stroke="#74829c" stroke-width="1.9" stroke-linecap="round" stroke-linejoin="round"><polyline points="3 6 5 6 21 6"/><path d="M19 6v14a2 2 0 0 1-2 2H7a2 2 0 0 1-2-2V6m3 0V4a2 2 0 0 1 2-2h4a2 2 0 0 1 2 2v2"/><line x1="10" y1="11" x2="10" y2="17"/><line x1="14" y1="11" x2="14" y2="17"/></svg>
</section>
<section class="card abs" style="left:756px;top:826px;width:560px;height:545px">
<div class="abs chead" style="left:0;top:0;width:560px;height:58px"></div>
<h3 class="t" style="top:21.06px;font-size:16px;left:24.40px;letter-spacing:0.086px;-webkit-text-stroke:0.3px currentColor;">Sales Report by Locations with Devices</h3>
<svg class="ic" style="left:74px;top:60px" width="372" height="240" viewBox="830 886 372 240"><path d="M841.6,966.8L843.5,959.9L847.4,955.2L852.7,951.5L859.0,953.8L867.7,956.4L873.5,958.0L880.2,955.2L884.1,956.6L888.0,956.6L892.8,960.6L899.6,961.2L907.3,960.6L911.2,959.3L913.1,949.9L916.0,955.2L918.9,959.3L921.8,956.6L925.2,958.0L924.7,963.2L920.9,965.6L919.9,970.2L916.5,971.3L914.1,974.4L912.6,980.3L914.6,984.0L918.9,984.9L921.8,986.9L924.2,987.4L924.7,991.5L927.1,993.1L927.6,988.3L929.6,985.7L928.6,980.3L929.1,973.4L933.4,974.4L936.3,976.5L936.8,980.3L940.2,981.3L941.6,977.9L944.1,983.1L947.0,988.3L949.9,991.5L949.4,993.1L946.0,995.1L940.2,995.1L937.3,997.6L941.2,996.9L941.6,999.1L942.1,1001.2L945.0,1001.9L942.1,1003.5L940.2,1004.6L939.2,1002.6L936.3,1004.6L935.8,1006.8L932.5,1008.5L931.0,1011.6L930.5,1015.0L928.1,1016.6L925.7,1019.3L926.5,1024.3L926.3,1026.2L924.9,1025.3L923.9,1022.6L922.8,1021.0L920.9,1020.6L917.5,1020.7L917.6,1022.1L916.0,1021.7L913.1,1021.5L910.2,1023.4L909.9,1025.9L909.4,1029.1L910.7,1032.2L912.6,1033.5L915.5,1033.1L916.5,1030.6L919.9,1030.2L919.4,1032.7L918.6,1034.2L918.4,1035.9L922.8,1035.9L923.5,1036.9L923.1,1040.7L924.2,1042.5L926.7,1042.5L929.1,1043.2L928.6,1044.1L926.7,1044.3L925.2,1043.8L923.8,1043.3L921.3,1041.7L919.4,1038.9L917.0,1038.0L914.8,1037.1L912.6,1035.5L910.2,1035.9L907.3,1034.8L903.4,1032.9L902.0,1031.3L902.1,1029.6L899.6,1026.4L897.2,1023.7L894.9,1021.0L893.1,1019.1L893.3,1021.0L895.7,1024.8L897.6,1027.5L898.1,1028.5L895.7,1026.7L893.3,1023.4L892.3,1021.0L890.8,1018.1L889.4,1016.4L887.4,1015.8L886.0,1013.1L885.5,1011.9L884.1,1008.9L883.7,1005.3L884.1,1000.9L883.4,997.8L885.6,999.1L885.1,996.9L883.1,995.4L880.7,993.9L879.8,990.7L878.0,988.3L876.4,985.7L874.4,982.2L872.0,981.6L869.1,978.8L864.8,978.4L861.4,976.5L857.5,979.8L857.0,976.9L855.1,980.3L852.7,983.1L850.7,985.4L847.4,987.4L844.9,988.1L848.3,985.2L850.7,981.6L852.2,980.7L847.8,980.9L847.4,978.4L844.5,976.9L843.5,974.4L844.9,971.9L848.3,971.3L848.3,969.1L844.5,969.1ZM926.7,943.7L930.5,946.7L936.3,952.4L939.2,958.0L944.1,963.9L942.1,967.9L940.2,974.4L938.3,974.0L934.4,970.6L929.1,969.5L929.6,966.8L932.9,964.4L933.4,960.6L928.6,955.2L921.8,955.2L917.9,952.4L917.5,946.1L921.8,943.7ZM890.9,955.2L895.7,959.3L902.5,958.8L905.9,956.6L902.5,952.4L902.5,946.1L897.6,946.1L889.9,947.7ZM883.1,949.9L888.0,950.8L889.9,946.1L890.9,942.0L887.0,940.9L883.1,944.4ZM917.0,933.2L926.7,934.4L929.6,926.6L934.4,921.7L942.1,910.6L944.1,900.4L936.3,895.8L924.7,896.6L917.0,904.0L915.0,913.6L920.9,921.7L917.0,926.6ZM915.0,933.2L917.0,940.5L926.7,940.5L926.7,936.4L920.9,933.2ZM890.9,938.3L895.7,941.3L901.5,939.1L901.5,935.2L895.7,934.4L890.9,935.2ZM911.2,926.6L918.9,924.2L920.9,913.6L914.1,908.7L911.2,916.4ZM905.4,950.8L911.2,950.8L914.1,947.7L914.1,942.7L910.2,942.7L905.4,944.4ZM919.9,966.3L922.8,966.3L926.2,970.2L923.8,973.4L919.9,970.8ZM946.7,998.9L949.9,1000.1L952.8,1000.2L953.1,998.9L952.3,996.4L950.2,995.4L950.2,993.1L948.6,994.3L947.0,997.6ZM933.4,925.6L938.3,915.3L944.1,906.1L949.9,901.9L958.6,895.8L965.3,892.5L974.0,891.6L979.8,895.0L983.7,901.2L987.6,906.7L992.4,907.4L986.6,916.4L985.6,926.6L986.1,935.2L984.7,942.7L982.7,949.3L982.3,954.4L978.9,959.3L973.1,960.6L968.2,966.1L965.3,967.9L963.4,973.4L961.9,978.4L960.0,978.0L957.6,976.5L955.7,972.3L953.7,967.9L952.1,963.2L951.8,956.6L954.7,955.2L950.8,950.8L949.9,944.4L947.4,937.2L944.1,934.4L938.3,935.2L935.4,931.1ZM980.5,966.8L982.7,964.6L986.6,965.1L989.9,965.6L990.9,967.9L989.5,969.5L986.1,971.5L983.7,970.6L982.1,970.2L982.7,968.4ZM929.1,1043.2L931.0,1040.9L934.4,1039.5L934.9,1040.9L938.3,1040.7L942.1,1041.2L944.3,1041.0L946.0,1043.2L948.9,1045.6L953.7,1046.8L955.7,1049.9L955.7,1051.4L957.6,1052.4L961.0,1053.8L965.3,1054.1L968.2,1056.0L970.2,1057.2L970.4,1059.2L968.2,1062.1L966.3,1064.6L966.3,1068.6L964.6,1072.7L963.4,1074.3L960.5,1075.1L957.1,1077.5L956.9,1080.2L953.7,1084.7L952.3,1087.0L949.4,1087.3L947.6,1086.4L948.9,1089.4L947.4,1091.8L944.1,1092.4L943.6,1094.9L941.2,1094.9L942.6,1097.1L940.9,1100.2L938.7,1102.3L940.4,1103.7L937.8,1107.4L937.3,1110.5L938.0,1111.3L941.0,1115.0L938.3,1116.2L935.4,1114.5L932.0,1111.3L931.0,1105.9L932.0,1100.2L933.4,1096.2L932.7,1092.4L933.4,1088.8L934.9,1084.1L934.9,1079.6L936.0,1075.3L936.0,1069.6L933.9,1068.1L930.5,1065.1L929.1,1062.6L927.1,1059.2L925.5,1056.7L926.4,1054.6L925.9,1052.4L926.7,1050.9L927.8,1049.9L929.1,1047.5L929.1,1045.1ZM998.3,1014.3L1002.1,1015.0L1006.9,1013.1L1013.2,1012.5L1014.6,1013.0L1013.9,1016.4L1014.6,1017.3L1018.5,1018.4L1022.4,1020.6L1023.4,1018.1L1026.3,1017.9L1028.2,1019.2L1032.1,1019.8L1035.2,1019.6L1035.5,1021.1L1036.6,1023.7L1038.3,1027.5L1039.8,1030.6L1040.3,1033.2L1042.2,1036.2L1045.6,1039.2L1045.9,1040.2L1047.5,1041.2L1050.4,1040.5L1053.5,1039.9L1053.1,1041.7L1050.4,1046.6L1048.5,1049.0L1045.1,1052.4L1043.2,1054.1L1041.7,1057.2L1042.2,1060.1L1043.2,1062.1L1043.4,1066.1L1039.8,1068.9L1037.9,1071.1L1038.3,1075.1L1035.7,1077.5L1035.7,1080.2L1033.5,1083.0L1030.1,1086.2L1025.3,1086.6L1023.4,1087.3L1021.8,1086.6L1021.2,1084.1L1020.0,1080.2L1018.5,1077.5L1018.0,1073.2L1015.6,1068.6L1015.4,1066.6L1017.3,1062.6L1016.8,1059.9L1015.8,1057.2L1014.6,1055.1L1012.7,1052.4L1013.2,1050.4L1013.4,1048.0L1012.2,1047.0L1009.8,1047.2L1008.4,1045.3L1005.0,1045.6L1002.1,1046.6L1000.1,1046.4L996.8,1047.1L994.8,1045.6L992.9,1044.6L991.2,1042.7L989.5,1040.7L987.8,1039.2L987.1,1037.0L988.3,1035.2L988.3,1032.7L987.6,1030.6L988.5,1028.0L990.0,1025.3L991.4,1023.5L993.4,1022.3L994.5,1021.0L994.5,1019.3L995.8,1017.2L997.4,1016.4ZM1051.7,1063.1L1052.7,1066.6L1051.9,1068.1L1050.2,1075.3L1049.5,1076.6L1047.5,1076.9L1046.3,1074.8L1046.9,1071.1L1046.6,1068.1L1049.0,1066.6L1050.4,1064.6ZM998.6,1014.0L997.9,1013.4L996.9,1012.6L995.4,1012.8L995.5,1011.0L994.8,1010.6L995.5,1007.9L995.5,1005.9L995.1,1005.0L996.3,1004.3L999.7,1004.7L1002.3,1004.7L1002.9,1003.0L1002.9,1000.9L1001.6,999.4L999.5,998.4L999.5,997.6L1002.5,997.3L1002.3,995.9L1004.2,996.2L1005.6,995.1L1005.6,994.0L1007.4,993.3L1008.4,991.5L1008.8,990.3L1010.8,989.9L1012.3,989.4L1012.3,986.6L1011.8,984.0L1014.2,982.7L1014.2,985.7L1013.5,987.4L1014.6,989.1L1017.6,989.1L1021.9,988.0L1023.2,988.5L1024.3,986.9L1024.3,984.0L1027.2,983.5L1027.5,979.8L1031.1,979.4L1033.0,978.4L1031.6,977.5L1026.3,978.4L1024.8,976.5L1024.6,972.3L1028.2,967.9L1027.2,966.1L1025.3,966.8L1024.8,969.1L1021.2,973.4L1020.6,976.9L1022.2,978.8L1020.2,982.2L1019.8,984.9L1017.8,986.6L1016.4,986.6L1016.1,984.9L1014.8,981.3L1014.2,979.8L1011.7,982.0L1009.5,980.9L1008.8,976.5L1008.8,974.4L1012.2,971.3L1014.6,968.4L1016.6,964.4L1018.0,960.6L1020.9,957.2L1024.3,955.2L1028.7,952.4L1031.1,952.4L1034.0,954.4L1033.0,956.1L1035.9,956.9L1038.8,957.5L1043.2,961.2L1043.7,964.4L1040.8,965.1L1036.4,963.9L1037.7,969.1L1039.8,970.2L1042.7,968.6L1042.7,965.6L1046.6,965.1L1046.9,959.9L1048.5,960.6L1049.0,963.7L1055.3,959.3L1060.1,958.5L1062.5,956.6L1065.9,957.5L1069.8,959.3L1070.7,957.2L1068.8,952.4L1070.7,946.1L1074.1,946.7L1074.6,952.4L1075.6,947.7L1077.0,949.3L1081.9,944.1L1088.1,939.1L1095.9,935.2L1100.7,933.2L1104.9,928.0L1107.5,932.7L1113.3,935.2L1113.8,943.7L1118.1,944.7L1123.4,944.4L1126.8,946.7L1129.2,952.4L1132.6,950.8L1138.4,950.2L1139.4,947.7L1149.1,949.9L1151.0,952.6L1157.8,954.4L1158.7,956.4L1165.5,956.4L1168.9,955.2L1168.4,958.5L1174.2,956.1L1178.1,958.3L1182.9,962.7L1187.7,965.1L1185.8,966.8L1179.0,967.0L1177.1,969.1L1175.7,968.6L1177.6,973.2L1173.2,975.1L1168.9,978.4L1164.5,978.0L1161.6,982.2L1161.2,985.7L1160.4,987.8L1158.7,990.7L1157.3,991.9L1155.5,993.9L1154.9,989.1L1154.5,984.0L1157.8,978.8L1161.6,975.5L1158.7,974.9L1155.3,975.9L1153.4,979.4L1147.6,979.6L1141.8,979.8L1139.4,982.7L1135.0,988.0L1137.5,989.4L1140.4,990.4L1139.9,994.6L1139.7,998.4L1137.5,1001.2L1135.0,1003.9L1132.6,1005.5L1130.4,1006.2L1129.2,1007.9L1127.3,1009.5L1129.0,1012.8L1129.0,1014.6L1126.8,1015.7L1126.1,1014.6L1126.5,1012.2L1124.9,1011.6L1125.1,1009.6L1122.5,1010.1L1121.2,1008.1L1118.1,1010.1L1119.1,1012.2L1122.3,1012.5L1120.5,1013.8L1119.6,1015.2L1120.8,1018.1L1121.8,1019.8L1122.0,1021.5L1120.5,1023.7L1119.6,1025.9L1117.2,1028.0L1114.3,1029.3L1111.3,1030.3L1110.4,1031.3L1108.9,1029.9L1107.0,1031.7L1106.3,1033.0L1108.9,1035.7L1109.7,1038.7L1109.4,1040.2L1107.5,1041.3L1105.5,1042.9L1105.4,1041.5L1103.6,1040.7L1103.0,1039.5L1101.6,1038.4L1100.7,1038.4L1100.0,1040.7L1100.2,1042.5L1101.2,1044.6L1102.6,1045.4L1104.0,1047.0L1104.1,1049.0L1104.8,1050.0L1104.0,1050.0L1102.0,1048.7L1101.1,1046.1L1100.4,1044.9L1099.1,1043.6L1099.3,1041.2L1099.3,1038.7L1098.4,1035.7L1096.8,1035.2L1095.2,1035.7L1095.1,1033.2L1093.3,1030.6L1092.8,1029.1L1091.5,1029.6L1089.6,1029.9L1088.1,1030.3L1087.9,1031.4L1086.2,1032.1L1083.6,1035.1L1081.6,1036.2L1081.7,1038.5L1081.3,1041.4L1080.4,1042.4L1079.6,1042.9L1079.0,1043.5L1078.0,1042.7L1077.2,1040.2L1076.3,1038.7L1075.6,1036.2L1074.6,1033.7L1074.4,1031.1L1074.2,1030.4L1072.7,1030.8L1070.7,1029.3L1072.0,1028.5L1070.3,1028.0L1069.1,1026.6L1068.3,1026.0L1064.0,1026.2L1059.4,1025.8L1058.9,1024.3L1056.7,1024.7L1053.8,1023.3L1052.4,1021.0L1051.2,1020.6L1050.4,1021.3L1051.1,1022.8L1052.4,1024.6L1052.6,1025.8L1053.3,1025.3L1053.9,1026.4L1053.5,1027.2L1054.8,1027.3L1056.7,1027.2L1058.6,1025.1L1058.7,1027.1L1060.8,1028.0L1061.8,1029.2L1060.6,1031.2L1059.8,1032.7L1058.6,1033.7L1057.2,1034.7L1054.3,1036.2L1051.1,1037.7L1047.5,1038.9L1046.1,1039.0L1045.3,1036.9L1045.1,1035.2L1043.7,1032.7L1041.9,1030.3L1041.5,1028.5L1040.1,1027.0L1038.1,1023.2L1037.8,1021.5L1037.2,1023.4L1035.5,1021.1L1035.2,1019.6L1037.2,1019.5L1037.8,1018.1L1038.6,1015.7L1038.8,1014.0L1038.9,1013.2L1037.4,1013.2L1035.2,1013.8L1033.6,1013.1L1032.1,1013.2L1030.6,1013.1L1030.4,1012.2L1029.4,1011.3L1029.8,1010.0L1029.3,1009.1L1029.2,1008.1L1027.2,1008.1L1026.7,1008.9L1026.1,1008.6L1026.0,1010.0L1027.2,1011.6L1026.4,1011.9L1026.4,1013.4L1025.7,1013.4L1025.0,1013.0L1024.5,1011.9L1023.4,1009.6L1022.8,1008.6L1022.9,1007.0L1021.9,1006.0L1020.0,1004.9L1018.7,1003.7L1018.0,1002.3L1017.3,1002.7L1017.2,1001.6L1015.9,1002.2L1016.0,1003.7L1017.2,1004.6L1017.7,1006.0L1019.5,1006.7L1021.9,1008.9L1021.8,1009.4L1020.5,1008.6L1020.5,1010.4L1019.2,1011.7L1019.1,1009.1L1017.9,1008.4L1016.6,1007.6L1015.8,1007.0L1014.2,1005.4L1013.9,1004.1L1012.4,1003.4L1011.3,1004.2L1010.0,1005.1L1008.7,1004.7L1007.1,1005.0L1007.1,1006.7L1004.9,1007.9L1003.7,1009.9L1004.2,1010.8L1003.3,1012.1L1002.1,1013.1L999.8,1013.2ZM998.5,995.3L1000.6,994.8L1003.0,994.3L1005.4,993.6L1004.5,993.1L1005.7,991.2L1004.3,990.7L1004.0,989.8L1002.9,988.1L1002.1,986.1L1000.9,985.7L1002.1,982.9L1000.6,982.7L1001.1,981.1L999.2,981.1L998.0,983.1L998.6,985.4L999.4,987.4L1000.9,987.8L1001.1,989.4L1000.9,990.3L999.7,990.3L999.9,991.9L999.0,992.6L1000.6,993.3L999.9,993.7ZM994.3,992.6L995.8,993.0L997.9,992.0L998.1,989.9L998.6,988.3L997.9,987.1L996.1,987.1L994.3,988.8L994.5,990.3L994.1,992.0ZM1014.6,918.6L1017.6,928.4L1020.5,932.7L1024.8,928.9L1022.4,924.2L1025.3,925.2L1030.1,915.9L1023.4,913.6L1019.5,917.0ZM1053.8,950.8L1055.3,952.9L1059.6,953.2L1057.7,946.1L1060.1,941.6L1064.0,937.2L1070.3,932.3L1067.8,931.1L1062.0,934.4L1057.7,939.1L1055.9,944.4ZM1095.9,921.7L1100.7,926.6L1105.5,924.2L1103.6,919.1L1100.7,913.6L1096.8,910.6L1093.0,916.4ZM1136.5,937.2L1142.3,939.1L1149.1,938.3L1145.2,935.2L1139.4,934.4ZM1049.5,914.7L1056.2,915.9L1062.0,913.0L1064.0,908.7L1057.2,905.4L1050.4,910.6ZM1176.6,952.4L1179.5,952.4L1180.5,951.2L1178.1,950.5ZM1141.3,988.6L1142.6,991.5L1142.5,995.4L1143.7,996.9L1142.0,999.1L1142.6,1000.9L1141.3,1001.2L1141.3,998.4L1141.1,994.6L1141.0,991.5ZM1139.7,1007.2L1140.8,1005.8L1142.5,1006.6L1144.7,1004.9L1143.6,1003.7L1141.0,1002.0L1140.6,1004.9L1139.7,1005.9ZM1130.6,1016.4L1132.1,1014.6L1135.0,1014.5L1136.3,1012.6L1137.9,1012.4L1139.2,1010.4L1139.4,1008.4L1140.6,1007.5L1141.3,1009.8L1140.4,1011.6L1140.2,1014.0L1139.4,1015.2L1138.1,1015.6L1136.5,1015.7L1135.3,1017.0L1134.6,1015.7L1132.6,1016.1L1133.6,1017.0L1132.4,1017.8L1131.2,1019.4L1129.9,1019.5L1129.4,1017.6ZM1121.5,1026.2L1121.8,1027.0L1120.9,1029.6L1120.1,1028.5L1121.0,1026.4ZM1109.1,1032.5L1110.9,1031.7L1111.3,1032.1L1110.4,1033.3L1109.1,1033.0ZM1120.5,1033.2L1122.2,1033.3L1122.3,1035.2L1121.6,1036.0L1121.7,1037.5L1123.8,1037.9L1124.0,1039.1L1122.6,1038.3L1121.0,1038.0L1120.3,1037.0L1120.0,1035.4ZM1122.0,1044.6L1123.4,1043.0L1125.3,1041.9L1126.3,1044.3L1125.4,1045.9L1123.9,1045.1ZM1122.0,1039.9L1123.1,1040.2L1125.4,1039.3L1125.4,1040.7L1123.9,1041.7L1123.0,1042.6L1122.4,1041.7ZM1117.3,1043.2L1119.6,1040.9L1119.4,1040.4L1117.2,1042.9ZM1109.4,1049.8L1110.7,1049.8L1111.8,1048.8L1113.3,1048.2L1115.2,1046.6L1117.0,1044.6L1117.8,1045.4L1119.3,1046.4L1118.1,1047.2L1117.8,1048.5L1118.1,1050.2L1117.6,1052.2L1116.7,1053.8L1116.2,1055.3L1114.7,1055.3L1113.3,1054.5L1111.8,1054.6L1110.4,1052.9L1109.4,1051.1ZM1096.2,1046.0L1098.3,1046.4L1101.0,1048.7L1104.1,1051.4L1105.1,1053.3L1106.5,1054.5L1106.3,1057.0L1105.1,1057.0L1102.9,1055.3L1101.0,1052.6L1099.5,1049.9L1097.8,1048.2ZM1105.7,1058.0L1107.0,1057.2L1108.9,1057.8L1111.2,1057.6L1113.0,1058.2L1114.7,1059.0L1114.6,1059.7L1111.3,1059.5L1108.4,1059.0L1106.0,1058.2ZM1119.6,1051.9L1120.1,1050.6L1121.5,1050.3L1124.8,1049.9L1123.9,1051.0L1121.0,1050.9L1120.2,1052.3L1121.5,1052.4L1123.2,1052.3L1122.0,1053.1L1121.5,1053.8L1122.7,1055.6L1122.0,1056.6L1121.0,1054.8L1120.4,1056.8L1119.6,1056.6L1119.4,1054.8L1118.9,1054.0ZM1130.7,1052.2L1133.6,1052.2L1134.6,1054.6L1137.0,1052.9L1140.4,1053.9L1143.7,1055.1L1145.2,1056.8L1146.8,1057.2L1146.4,1058.2L1148.6,1060.9L1149.5,1061.6L1146.6,1061.1L1145.2,1059.5L1142.8,1059.9L1141.3,1060.3L1139.4,1059.2L1137.5,1059.5L1138.1,1058.0L1137.0,1056.2L1134.6,1055.7L1132.6,1055.3L1132.4,1054.1L1133.6,1053.6L1131.7,1053.5ZM1123.4,1061.4L1124.9,1059.8L1127.0,1059.6L1125.9,1060.5L1123.9,1061.3ZM1115.7,1059.5L1117.2,1059.5L1119.1,1059.6L1120.1,1059.6L1122.8,1059.5L1122.8,1059.9L1119.1,1059.9L1116.2,1060.0ZM1127.3,1050.4L1128.3,1049.9L1128.5,1051.1L1127.6,1052.2ZM1147.6,1056.8L1150.0,1056.2L1151.2,1055.6L1151.0,1056.7L1149.1,1057.5ZM1081.2,1042.1L1081.7,1042.0L1083.1,1044.1L1082.5,1045.3L1081.6,1045.6L1081.1,1044.1ZM1113.8,1073.2L1114.4,1073.0L1117.0,1071.7L1119.1,1071.1L1121.5,1070.1L1122.3,1068.3L1123.6,1067.4L1124.9,1066.1L1126.5,1065.1L1128.0,1065.9L1129.2,1065.9L1130.2,1063.6L1132.1,1063.1L1132.2,1062.4L1134.6,1063.1L1136.3,1063.3L1135.5,1064.6L1135.0,1066.1L1137.0,1067.1L1138.9,1068.6L1140.2,1068.6L1140.9,1066.1L1140.9,1063.9L1141.8,1061.9L1142.8,1063.9L1143.1,1065.5L1144.5,1066.1L1145.2,1069.1L1146.6,1070.5L1148.1,1071.7L1149.7,1073.8L1151.7,1076.4L1152.4,1078.9L1152.4,1080.7L1151.7,1084.1L1150.3,1086.2L1149.4,1088.8L1149.0,1090.6L1146.8,1091.2L1145.6,1092.4L1143.9,1091.4L1142.6,1092.2L1140.4,1091.3L1139.1,1089.7L1137.9,1088.3L1137.5,1087.3L1137.0,1087.8L1136.2,1088.5L1137.4,1085.2L1135.8,1087.1L1135.2,1087.5L1133.9,1085.0L1131.7,1084.1L1128.8,1083.6L1125.9,1084.4L1123.9,1085.2L1123.4,1086.3L1120.1,1086.3L1118.1,1087.6L1116.2,1087.6L1115.2,1086.7L1115.8,1084.1L1115.2,1081.8L1114.4,1079.1L1113.6,1076.9L1114.1,1074.8ZM1143.9,1094.6L1145.7,1095.1L1147.4,1094.8L1147.3,1096.5L1146.2,1098.3L1145.2,1098.2L1144.5,1096.6ZM1171.0,1086.9L1172.6,1087.9L1173.7,1089.4L1174.2,1090.7L1176.4,1090.8L1175.5,1092.8L1174.4,1094.9L1173.2,1095.6L1173.0,1093.4L1172.1,1092.7L1172.9,1090.6L1171.3,1087.6ZM1171.0,1094.4L1172.5,1095.3L1171.5,1097.5L1169.7,1099.3L1169.1,1101.3L1167.4,1102.5L1165.1,1101.6L1166.5,1099.3L1168.9,1097.3L1170.3,1094.9ZM921.9,1029.7L923.8,1028.5L926.2,1028.4L929.6,1030.1L932.3,1031.4L929.1,1031.8L928.6,1030.9L926.7,1029.9L924.7,1029.2ZM932.1,1033.1L933.4,1031.8L936.3,1031.9L937.9,1033.1L935.8,1033.5L934.7,1033.9ZM928.3,1033.3L930.2,1033.5L930.2,1033.8L928.3,1033.6ZM939.0,1033.2L940.6,1033.3L940.5,1033.7L939.0,1033.7ZM1016.0,1011.6L1019.1,1011.4L1018.6,1013.2L1016.0,1012.1ZM1011.9,1007.9L1013.4,1007.9L1013.3,1010.1L1012.1,1010.4ZM1012.3,1005.4L1013.2,1005.4L1013.1,1007.2L1012.4,1007.2ZM1026.8,1014.6L1029.4,1015.0L1027.7,1015.3ZM1035.2,1015.2L1037.4,1014.5L1036.8,1015.3L1035.6,1015.7ZM945.0,1109.7L947.9,1109.5L947.4,1110.8L945.5,1110.8ZM879.9,994.3L882.9,995.1L884.6,997.6L883.1,997.3L880.7,995.4ZM875.4,989.1L876.7,989.1L877.1,991.9L876.1,991.1ZM854.6,982.6L856.7,982.4L855.6,984.3ZM853.2,1031.4L854.1,1032.0L853.5,1032.8ZM1162.6,1071.4L1165.3,1073.3L1164.9,1073.6L1162.5,1071.8ZM1175.5,1068.6L1176.7,1068.6L1176.6,1069.3L1175.5,1069.2ZM1154.9,1058.0L1159.2,1060.3L1159.0,1060.8L1154.7,1058.4Z" fill="#dfe2ea" stroke="#f4f5f8" stroke-width="0.35" stroke-linejoin="round"/><path d="M1031.1,1007.2L1031.3,1004.7L1031.8,1003.5L1032.7,1002.2L1033.8,1000.5L1035.0,1000.5L1036.5,1001.2L1035.6,1001.9L1036.5,1003.2L1038.2,1002.6L1039.4,1002.2L1038.3,1001.2L1040.3,999.8L1041.9,999.6L1040.6,1001.2L1040.1,1002.2L1040.3,1003.0L1042.5,1004.6L1044.1,1005.9L1044.2,1007.1L1043.2,1007.9L1041.2,1008.0L1039.3,1007.5L1038.1,1006.6L1036.4,1006.6L1034.3,1007.6L1032.2,1007.6ZM1049.9,1005.3L1049.5,1003.2L1050.9,1001.2L1053.3,999.8L1055.3,1000.2L1054.8,1002.0L1053.3,1003.2L1052.7,1003.5L1053.8,1005.0L1055.0,1006.6L1055.0,1007.9L1056.0,1008.2L1055.3,1010.0L1056.0,1012.6L1054.3,1013.1L1052.7,1012.5L1051.4,1011.3L1051.7,1009.1L1052.7,1008.6L1051.4,1007.2ZM915.0,1000.2L917.9,998.4L920.4,997.3L922.1,999.1L922.1,1000.5L919.4,1000.5L917.0,1000.3ZM919.1,1006.6L918.9,1003.2L920.4,1001.3L922.3,1001.2L924.2,1001.5L926.7,1002.8L925.2,1005.0L924.2,1005.3L923.3,1003.9L923.3,1002.3L921.8,1001.9L920.6,1003.9L920.6,1006.3ZM923.4,1007.0L925.7,1005.8L927.6,1005.5L926.9,1004.9L929.6,1004.9L930.2,1003.9L927.6,1004.1L927.7,1005.3L926.2,1006.7Z" fill="#fff"/><path d="M867.7,956.4L867.7,977.9L871.1,980.5L873.5,979.4L874.9,981.3L878.3,985.7L878.0,987.8M885.1,996.9L912.0,996.9L912.5,997.3L917.5,998.4L922.0,999.9L923.2,1001.0L924.2,1002.2L924.3,1005.3L923.7,1006.4L927.6,1005.4L927.4,1004.7L929.7,1004.5L931.8,1002.6L934.9,1002.6L936.3,1000.2L937.1,999.2L938.4,999.8L938.4,1001.6L939.2,1002.6M890.8,1018.1L893.0,1018.1L896.7,1019.5L899.4,1019.5L899.4,1018.9L901.0,1018.9L903.0,1021.4L904.4,1022.1L905.0,1021.2L906.3,1021.4L907.8,1023.7L909.9,1025.5M1031.1,955.2L1032.1,958.0L1031.6,960.1L1033.0,961.4L1032.1,963.4L1033.0,966.3L1032.7,968.4L1033.5,969.7L1034.5,972.6L1030.9,977.5M1031.1,979.4L1030.5,983.1L1031.3,985.6L1033.9,986.4L1034.5,990.4L1037.2,992.6L1038.3,994.8L1040.8,995.6L1042.8,996.0L1042.4,998.6L1041.0,999.6M1049.9,1005.3L1049.0,1006.7L1051.0,1006.8M1051.4,1001.2L1049.5,998.4L1049.0,995.4L1051.2,994.5L1053.3,992.8L1057.2,994.5L1061.5,994.6L1063.5,993.6L1063.0,989.3L1066.9,988.5L1070.7,986.9L1072.7,989.0L1075.6,989.9L1078.0,989.1L1081.4,994.2L1084.8,993.9L1088.4,996.6M1088.4,996.6L1089.1,994.6L1093.0,994.3L1098.0,995.7L1099.1,992.3L1102.8,993.4L1102.9,994.6L1107.3,995.0L1113.3,996.0L1116.9,995.7L1117.9,996.2L1119.8,992.3L1120.7,990.3L1123.5,989.9L1125.5,990.7L1127.3,995.1L1130.4,997.0L1134.3,997.9L1132.7,1002.6L1131.0,1002.7L1130.7,1005.5L1130.4,1006.2M1088.4,996.6L1091.9,1002.2L1096.3,1003.5L1097.2,1005.7L1102.5,1005.9L1105.5,1007.1L1110.8,1005.5L1112.3,1002.4L1116.8,1000.8L1119.8,1000.3L1116.9,995.7M1088.4,996.6L1086.7,999.8L1084.3,999.5L1081.6,1002.6L1081.6,1006.3L1078.4,1007.9L1075.2,1009.8L1076.4,1012.6L1080.2,1015.9L1080.3,1019.5L1082.3,1020.7L1087.2,1023.2L1089.9,1023.2L1090.0,1023.9L1093.0,1023.5L1098.1,1023.0L1099.5,1025.5L1099.6,1028.3L1101.9,1030.0L1102.7,1029.2L1105.8,1028.2L1107.2,1028.6L1108.4,1030.1M1068.3,1026.0L1063.6,1026.2L1063.9,1025.1L1065.1,1023.9L1062.9,1021.2L1068.1,1021.1L1071.0,1018.8L1072.0,1017.2L1073.2,1013.7L1076.4,1012.6M1080.2,1015.9L1075.9,1017.6L1076.1,1019.8L1073.5,1023.3L1071.8,1024.7L1072.5,1025.7L1070.0,1027.8M1090.0,1023.9L1089.2,1024.9L1090.0,1026.2L1090.8,1025.5L1093.4,1026.4L1092.2,1028.0L1093.3,1030.6M1093.3,1030.6L1095.5,1026.7L1098.1,1023.0M1046.6,1009.9L1047.3,1012.6L1048.5,1014.4L1047.9,1016.4L1050.1,1019.8L1051.0,1021.1M1038.9,1013.2L1041.4,1013.2L1045.0,1012.7L1047.3,1012.6M1037.8,1021.5L1038.9,1021.9L1040.3,1021.0L1041.7,1018.7L1041.5,1017.1L1043.7,1015.9L1045.0,1012.7M1041.7,1018.7L1043.1,1018.8L1044.7,1019.7L1047.2,1021.9L1049.0,1022.0L1050.1,1021.0L1050.4,1021.3M1028.2,1019.2L1028.2,1029.6L1034.5,1029.6L1039.7,1029.6M1028.2,1029.6L1027.2,1032.2L1027.2,1036.0L1026.2,1036.2L1025.3,1039.1L1027.7,1043.0L1030.5,1046.4L1033.8,1048.0L1036.9,1047.3L1038.7,1046.9L1038.8,1046.1L1035.9,1043.7L1037.0,1042.2L1036.8,1041.5L1037.9,1039.2L1039.2,1037.3L1039.7,1035.0L1041.2,1033.7M1015.1,1017.4L1013.2,1020.7L1013.6,1024.8L1015.5,1028.0L1017.7,1029.0L1018.5,1028.5L1027.2,1032.2M995.6,1023.5L999.4,1026.4L1005.2,1030.5L1007.2,1032.7L1008.1,1032.5L1008.1,1035.3L1007.4,1036.3L1004.2,1036.8L1002.1,1037.5L1001.1,1038.0L999.8,1039.2L998.7,1041.3L996.3,1041.5L996.0,1044.0M1015.5,1028.0L1009.7,1032.1L1008.1,1032.5M1017.7,1029.0L1019.0,1030.6L1019.4,1031.2L1019.0,1034.8L1017.1,1037.2L1017.2,1038.0L1018.1,1039.5L1019.0,1041.8L1017.5,1042.1L1018.7,1044.2L1018.0,1045.7L1019.5,1049.2L1016.9,1049.3L1014.9,1049.3L1013.5,1049.2M1012.2,1047.0L1013.0,1045.2L1014.7,1044.9L1016.7,1041.7L1017.7,1040.4L1017.1,1037.2M1015.8,1057.2L1020.1,1057.1L1021.0,1059.3L1025.1,1058.5L1025.2,1062.1L1027.2,1062.1L1027.2,1064.1L1025.3,1064.1L1025.3,1067.3L1026.6,1068.7L1024.2,1069.1L1024.3,1073.2L1023.4,1073.2L1023.4,1080.1L1020.0,1080.2M1033.8,1048.0L1032.7,1051.4L1032.6,1052.8L1033.5,1053.7L1032.1,1055.8L1033.8,1059.4L1031.5,1060.3L1031.6,1063.5L1032.8,1064.5L1035.9,1065.1L1037.4,1065.5L1038.7,1068.0L1037.9,1068.1L1035.8,1070.8L1034.3,1073.6L1035.0,1075.8L1035.7,1078.4M1036.9,1047.3L1036.9,1050.4L1036.9,1052.4L1040.4,1054.3L1041.9,1056.0M1044.5,1052.4L1043.7,1048.7L1044.5,1047.6L1047.5,1046.6L1050.4,1043.6L1049.4,1043.6L1045.6,1042.6L1045.4,1040.2M934.9,1040.9L933.9,1044.1L936.3,1045.5L938.8,1045.5L938.9,1049.2L936.4,1049.8L936.4,1055.5L933.5,1056.4L933.2,1060.5L935.8,1060.6L935.7,1062.1L937.6,1063.6L936.8,1068.3L936.0,1069.6M946.0,1043.2L944.6,1045.7L945.3,1046.7L941.7,1047.5L942.1,1049.5L939.3,1050.2L938.9,1049.2M936.8,1068.3L938.3,1070.6L939.1,1074.1L936.0,1075.3M939.1,1074.1L943.3,1073.2L947.7,1071.4L948.3,1073.3L950.2,1073.8L951.2,1076.9L952.0,1078.6L948.3,1082.1L952.3,1086.0M943.3,1073.2L943.5,1073.5L947.9,1078.7L951.2,1076.9M937.6,1063.6L940.8,1060.8L940.9,1062.6L945.5,1064.9L945.9,1067.4L947.6,1067.4L948.1,1070.1L947.7,1071.4M938.7,1102.3L934.7,1100.0L934.6,1092.3L935.9,1088.6L936.4,1085.6L936.0,1083.0L936.6,1080.1L938.0,1078.4L939.1,1074.1M995.3,1006.7L997.7,1006.7L997.2,1011.4L996.9,1012.6M1002.3,1004.7L1004.7,1005.5L1007.1,1006.0M1011.3,1004.2L1010.8,1001.3L1009.9,1000.8L1011.4,998.9L1011.9,996.9L1010.2,996.2L1009.8,994.2L1010.7,990.3M1017.6,989.1L1018.1,993.9L1015.7,995.0L1017.4,997.3L1020.4,997.5L1022.2,996.2L1025.9,996.7L1027.2,994.5L1026.8,991.4L1026.7,989.1L1026.1,988.5L1023.2,988.5M1017.2,1001.6L1020.0,1000.5L1022.2,1001.3L1026.0,1003.2L1025.7,1006.2L1023.9,1007.9L1023.4,1009.5M1026.0,1003.2L1028.2,1004.3L1031.7,1004.3M1025.9,996.7L1029.7,997.9L1031.3,1001.9L1032.7,1002.2M1023.8,958.0L1027.2,959.1L1026.9,960.9L1027.2,966.1M1014.8,980.5L1015.8,976.5L1015.7,971.1L1018.0,965.4L1019.9,961.9L1021.5,959.3L1023.8,958.0M1100.8,1031.3L1101.9,1030.0M1099.3,1041.2L1099.9,1039.0L1099.0,1036.5L1099.6,1035.3L1098.2,1033.2L1100.8,1031.3L1101.8,1034.2L1105.3,1034.2L1106.1,1036.1L1108.1,1037.0L1108.0,1039.4L1106.5,1039.9L1105.1,1041.3M1103.0,1039.5L1103.1,1037.5L1106.1,1037.3M1140.4,1053.9L1140.4,1060.2M1110.0,1049.5L1112.1,1050.4L1115.0,1050.0L1115.3,1048.7L1115.7,1047.2L1117.7,1047.3M1124.3,1009.0L1126.7,1006.8L1128.0,1007.3L1130.4,1006.2M1126.0,1012.0L1128.2,1010.9" fill="none" stroke="#f6f7fa" stroke-width="0.55" stroke-linejoin="round"/><circle cx="901.6" cy="986.0" r="7" fill="#1170e4" fill-opacity="0.45"/><circle cx="901.6" cy="986.0" r="4.4" fill="#1170e4"/><circle cx="906.5" cy="1009.5" r="7" fill="#6c5ffc" fill-opacity="0.45"/><circle cx="906.5" cy="1009.5" r="4.4" fill="#6c5ffc"/><circle cx="1016.1" cy="1007.3" r="7" fill="#e82646" fill-opacity="0.45"/><circle cx="1016.1" cy="1007.3" r="4.4" fill="#e82646"/><circle cx="1080.4" cy="1031.2" r="7" fill="#05c3fb" fill-opacity="0.45"/><circle cx="1080.4" cy="1031.2" r="4.4" fill="#05c3fb"/><circle cx="1059.9" cy="1072.0" r="7" fill="#f7b731" fill-opacity="0.45"/><circle cx="1059.9" cy="1072.0" r="4.4" fill="#f7b731"/></svg>
<span class="t" style="top:313.67px;font-size:13.5px;left:12.40px;letter-spacing:0.056px;-webkit-text-stroke:0.28px currentColor;">Device</span>
<span class="t" style="top:313.67px;font-size:13.5px;left:270.64px;letter-spacing:-0.522px;-webkit-text-stroke:0.28px currentColor;">USA</span>
<span class="t" style="top:313.67px;font-size:13.5px;left:369.67px;letter-spacing:0.644px;-webkit-text-stroke:0.28px currentColor;">India</span>
<span class="t" style="top:313.67px;font-size:13.5px;left:474.25px;letter-spacing:0.293px;-webkit-text-stroke:0.28px currentColor;">Bahrain</span>
<span class="abs" style="left:0;top:342.8px;width:560px;height:1px;background:#e9edf4"></span>
<span class="abs" style="left:0;top:410.0px;width:560px;height:1px;background:#e9edf4"></span>
<span class="abs" style="left:0;top:477.0px;width:560px;height:1px;background:#e9edf4"></span>
<span class="abs" style="left:23.9px;top:360.0px;width:34px;height:34px;border-radius:50%;background:#ece9ff"></span>
<svg class="ic" style="left:30.65px;top:367.05px;" width="20.5" height="20.5" viewBox="0 0 24 24" fill="none" stroke="#6c5ffc" stroke-width="1.55" stroke-linecap="round" stroke-linejoin="round"><rect x="5" y="2" width="14" height="20" rx="2" ry="2"/><line x1="12" y1="18" x2="12.01" y2="18"/></svg>
<span class="t" style="top:369.80px;font-size:13px;left:66.30px;letter-spacing:0.172px;-webkit-text-stroke:0.22px currentColor;">Mobiles</span>
<span class="t" style="top:370.70px;font-size:13px;left:270.56px;letter-spacing:0.423px;-webkit-text-stroke:0.22px currentColor;">17%</span>
<span class="t" style="top:370.70px;font-size:13px;left:372.06px;letter-spacing:0.423px;-webkit-text-stroke:0.22px currentColor;">22%</span>
<span class="t" style="top:370.70px;font-size:13px;left:485.02px;letter-spacing:0.746px;-webkit-text-stroke:0.22px currentColor;">11%</span>
<span class="abs" style="left:23.9px;top:426.9px;width:34px;height:34px;border-radius:50%;background:#dff6fe"></span>
<svg class="ic" style="left:30.65px;top:433.95px;" width="20.5" height="20.5" viewBox="0 0 24 24" fill="none" stroke="#05c3fb" stroke-width="1.55" stroke-linecap="round" stroke-linejoin="round"><rect x="2" y="3" width="20" height="14" rx="2" ry="2"/><line x1="8" y1="21" x2="16" y2="21"/><line x1="12" y1="17" x2="12" y2="21"/></svg>
<span class="t" style="top:436.70px;font-size:13px;left:66.30px;letter-spacing:0.150px;-webkit-text-stroke:0.22px currentColor;">Desktops</span>
<span class="t" style="top:437.60px;font-size:13px;left:270.56px;letter-spacing:0.423px;-webkit-text-stroke:0.22px currentColor;">34%</span>
<span class="t" style="top:437.60px;font-size:13px;left:372.06px;letter-spacing:0.423px;-webkit-text-stroke:0.22px currentColor;">76%</span>
<span class="t" style="top:437.60px;font-size:13px;left:484.86px;letter-spacing:0.423px;-webkit-text-stroke:0.22px currentColor;">58%</span>
<span class="abs" style="left:23.9px;top:493.9px;width:34px;height:34px;border-radius:50%;background:#fde3e7"></span>
<svg class="ic" style="left:30.65px;top:500.95px;" width="20.5" height="20.5" viewBox="0 0 24 24" fill="none" stroke="#e82646" stroke-width="1.55" stroke-linecap="round" stroke-linejoin="round"><rect x="4" y="2" width="16" height="20" rx="2" ry="2"/><line x1="12" y1="18" x2="12.01" y2="18"/></svg>
<span class="t" style="top:503.70px;font-size:13px;left:66.30px;letter-spacing:0.257px;-webkit-text-stroke:0.22px currentColor;">Tablets</span>
<span class="t" style="top:504.60px;font-size:13px;left:270.56px;letter-spacing:0.423px;-webkit-text-stroke:0.22px currentColor;">56%</span>
<span class="t" style="top:504.60px;font-size:13px;left:372.06px;letter-spacing:0.423px;-webkit-text-stroke:0.22px currentColor;">83%</span>
<span class="t" style="top:504.60px;font-size:13px;left:484.86px;letter-spacing:0.423px;-webkit-text-stroke:0.22px currentColor;">66%</span>
</section>
<section class="card abs" style="left:1340px;top:826px;width:560px;height:545px">
<div class="abs chead" style="left:0;top:0;width:560px;height:58px"></div>
<h3 class="t" style="top:21.06px;font-size:16px;left:24.10px;letter-spacing:0.110px;-webkit-text-stroke:0.3px currentColor;">Browser Usage</h3>
<span class="abs" style="left:25px;top:82.7px;width:40px;height:40px;border-radius:50%;background:#f4f5fb"></span>
<span class="abs" style="left:35.0px;top:92.7px;width:20px;height:20px"><svg width="20" height="20" viewBox="0 0 20 20"><circle cx="10" cy="10" r="10" fill="#e04a3f"/><path d="M10 10L1.34 5A10 10 0 0 0 10 20z" fill="#2ba24c"/><path d="M10 10V20A10 10 0 0 0 18.66 5H10z" fill="#fdd03b"/><path d="M10 10L1.34 5A10 10 0 0 1 18.66 5z" fill="#e04a3f"/><circle cx="10" cy="10" r="4.7" fill="#f4f4f4"/><circle cx="10" cy="10" r="3.7" fill="#4b8bf5"/></svg></span>
<span class="t" style="top:84.15px;font-size:14px;left:102.20px;color:#343b5e;letter-spacing:-0.133px;">Chrome</span>
<span class="t" style="top:84.15px;font-size:14px;left:427.30px;letter-spacing:0.295px;-webkit-text-stroke:0.3px currentColor;">35,502</span>
<span class="t" style="top:85.84px;font-size:12px;left:476.60px;color:#09ad95;-webkit-text-stroke:0.3px currentColor;">(</span>
<svg class="ic" style="left:480.45px;top:87.05px;" width="9.5" height="9.5" viewBox="0 0 24 24" fill="none" stroke="#09ad95" stroke-width="2.4" stroke-linecap="round" stroke-linejoin="round"><line x1="12" y1="19" x2="12" y2="5"/><polyline points="5 12 12 5 19 12"/></svg>
<span class="t" style="top:85.84px;font-size:12px;left:491.00px;color:#09ad95;letter-spacing:-0.072px;-webkit-text-stroke:0.3px currentColor;">12.75%)</span>
<div class="abs" style="left:102.2px;top:108.1px;width:432.5px;height:7.8px;border-radius:4px;background:#f3f4fa;overflow:hidden"><div style="width:70%;height:100%;background:#6c5ffc"></div></div>
<span class="abs" style="left:25px;top:147.8px;width:40px;height:40px;border-radius:50%;background:#f4f5fb"></span>
<span class="abs" style="left:35.0px;top:157.8px;width:20px;height:20px"><svg width="20" height="20" viewBox="0 0 20 20"><ellipse cx="10" cy="10" rx="8.2" ry="9.3" fill="#e2101e"/><ellipse cx="10" cy="10" rx="3.4" ry="6.9" fill="#f6f6fb"/></svg></span>
<span class="t" style="top:149.25px;font-size:14px;left:102.20px;color:#343b5e;letter-spacing:-0.224px;">Opera</span>
<span class="t" style="top:149.25px;font-size:14px;left:427.30px;letter-spacing:0.295px;-webkit-text-stroke:0.3px currentColor;">12,563</span>
<span class="t" style="top:150.94px;font-size:12px;left:476.60px;color:#e82646;-webkit-text-stroke:0.3px currentColor;">(</span>
<svg class="ic" style="left:480.45px;top:152.15px;" width="9.5" height="9.5" viewBox="0 0 24 24" fill="none" stroke="#e82646" stroke-width="2.4" stroke-linecap="round" stroke-linejoin="round"><line x1="12" y1="5" x2="12" y2="19"/><polyline points="19 12 12 19 5 12"/></svg>
<span class="t" style="top:150.94px;font-size:12px;left:491.00px;color:#e82646;letter-spacing:-0.072px;-webkit-text-stroke:0.3px currentColor;">15.12%)</span>
<div class="abs" style="left:102.2px;top:173.2px;width:432.5px;height:7.8px;border-radius:4px;background:#f3f4fa;overflow:hidden"><div style="width:40%;height:100%;background:#05c3fb"></div></div>
<span class="abs" style="left:25px;top:212.8px;width:40px;height:40px;border-radius:50%;background:#f4f5fb"></span>
<span class="abs" style="left:35.0px;top:222.8px;width:20px;height:20px"><svg width="20" height="20" viewBox="0 0 20 20"><path d="M1.500 9.600C2 5 5.600 1.800 10.300 1.800c4.800 0 8.300 3.300 8.300 8.400v2H7c.3 2.400 2.400 3.700 5 3.700 1.900 0 3.600-.5 5.100-1.500v3.400C15.500 18.500 13.600 19 11.400 19 6.300 19 3 15.900 3 11.400c0-2.600 1.400-5 3.700-6.300C4.800 5.800 2.800 7.300 1.500 9.600zM7.100 8.700h6.600c0-2.200-1.300-3.400-3.200-3.400-1.800 0-3.100 1.300-3.400 3.400z" fill="#1ebbee"/><path d="M17.800 1.600C14 .8 7 4.500 3 10.500.800 14 .6 17 2.300 18.200c-1-2 .5-5.500 3-8.700C8.500 5.400 14 2 17.800 1.600z" fill="#1ebbee"/></svg></span>
<span class="t" style="top:214.25px;font-size:14px;left:102.20px;color:#343b5e;letter-spacing:-0.117px;">IE</span>
<span class="t" style="top:214.25px;font-size:14px;left:427.30px;letter-spacing:0.295px;-webkit-text-stroke:0.3px currentColor;">25,364</span>
<span class="t" style="top:215.94px;font-size:12px;left:476.60px;color:#09ad95;-webkit-text-stroke:0.3px currentColor;">(</span>
<svg class="ic" style="left:480.45px;top:217.15px;" width="9.5" height="9.5" viewBox="0 0 24 24" fill="none" stroke="#09ad95" stroke-width="2.4" stroke-linecap="round" stroke-linejoin="round"><line x1="12" y1="5" x2="12" y2="19"/><polyline points="19 12 12 19 5 12"/></svg>
<span class="t" style="top:215.94px;font-size:12px;left:491.00px;color:#09ad95;letter-spacing:-0.072px;-webkit-text-stroke:0.3px currentColor;">24.37%)</span>
<div class="abs" style="left:102.2px;top:238.2px;width:432.5px;height:7.8px;border-radius:4px;background:#f3f4fa;overflow:hidden"><div style="width:50%;height:100%;background:#09ad95"></div></div>
<span class="abs" style="left:25px;top:277.6px;width:40px;height:40px;border-radius:50%;background:#f4f5fb"></span>
<span class="abs" style="left:35.0px;top:287.6px;width:20px;height:20px"><svg width="20" height="20" viewBox="0 0 20 20"><defs><radialGradient id="ffg" cx="0.75" cy="0.35" r="0.85"><stop offset="0" stop-color="#ffd43a"/><stop offset="0.45" stop-color="#f68a1e"/><stop offset="1" stop-color="#d2411a"/></radialGradient><linearGradient id="ffb" x1="0" y1="0" x2="0" y2="1"><stop offset="0" stop-color="#3a8fd8"/><stop offset="1" stop-color="#1f3f8f"/></linearGradient></defs><circle cx="10.300" cy="9.600" r="8.600" fill="url(#ffb)"/><path d="M2.200 5.300C0 10 1.400 16 6 18.500c5 2.600 11 .3 13-4.800 1-2.600.8-5.600-.2-7.700.2 3-.8 5.500-2.800 6.800.5-2.800-1-5.300-3.500-5.800 1.500 1.500 1 4-1 4.500s-3.500-.5-3.200-2.300C6.500 9 5.800 7.500 6.500 6 5 6.200 3.500 6.300 2.200 5.300z" fill="url(#ffg)"/></svg></span>
<span class="t" style="top:279.05px;font-size:14px;left:102.20px;color:#343b5e;letter-spacing:0.029px;">Firefox</span>
<span class="t" style="top:279.05px;font-size:14px;left:427.30px;letter-spacing:0.295px;-webkit-text-stroke:0.3px currentColor;">14,635</span>
<span class="t" style="top:280.74px;font-size:12px;left:476.60px;color:#09ad95;-webkit-text-stroke:0.3px currentColor;">(</span>
<svg class="ic" style="left:480.45px;top:281.95px;" width="9.5" height="9.5" viewBox="0 0 24 24" fill="none" stroke="#09ad95" stroke-width="2.4" stroke-linecap="round" stroke-linejoin="round"><line x1="12" y1="5" x2="12" y2="19"/><polyline points="19 12 12 19 5 12"/></svg>
<span class="t" style="top:280.74px;font-size:12px;left:491.00px;color:#09ad95;letter-spacing:-0.072px;-webkit-text-stroke:0.3px currentColor;">15.63%)</span>
<div class="abs" style="left:102.2px;top:302.3px;width:432.5px;height:7.8px;border-radius:4px;background:#f3f4fa;overflow:hidden"><div style="width:50%;height:100%;background:#e82646"></div></div>
<span class="abs" style="left:25px;top:342.0px;width:40px;height:40px;border-radius:50%;background:#f4f5fb"></span>
<span class="abs" style="left:35.0px;top:352.0px;width:20px;height:20px"><svg width="20" height="20" viewBox="0 0 20 20"><path d="M1 9.2C1.600 4.300 5.300 1 10.200 1c5 0 8.800 3.400 8.800 8.800v2.200H6.800c.3 2.600 2.500 3.900 5.200 3.900 2 0 3.800-.6 5.400-1.600v3.600C15.700 18.800 13.700 19.300 11.400 19.300 6 19.300 2.600 16 2.600 11.300c0-2.800 1.500-5.300 3.900-6.700C4.500 5.300 2.400 6.800 1 9.200zM6.900 8.300h6.900c0-2.300-1.400-3.600-3.400-3.600-1.900 0-3.200 1.400-3.500 3.600z" fill="#0a74d8"/></svg></span>
<span class="t" style="top:343.45px;font-size:14px;left:102.20px;color:#343b5e;letter-spacing:-0.526px;">Edge</span>
<span class="t" style="top:343.45px;font-size:14px;left:427.30px;letter-spacing:0.295px;-webkit-text-stroke:0.3px currentColor;">15,453</span>
<span class="t" style="top:345.14px;font-size:12px;left:476.60px;color:#e82646;-webkit-text-stroke:0.3px currentColor;">(</span>
<svg class="ic" style="left:480.45px;top:346.35px;" width="9.5" height="9.5" viewBox="0 0 24 24" fill="none" stroke="#e82646" stroke-width="2.4" stroke-linecap="round" stroke-linejoin="round"><line x1="12" y1="5" x2="12" y2="19"/><polyline points="19 12 12 19 5 12"/></svg>
<span class="t" style="top:345.14px;font-size:12px;left:491.00px;color:#e82646;letter-spacing:-0.072px;-webkit-text-stroke:0.3px currentColor;">23.70%)</span>
<div class="abs" style="left:102.2px;top:367.4px;width:432.5px;height:7.8px;border-radius:4px;background:#f3f4fa;overflow:hidden"><div style="width:10%;height:100%;background:#f7b731"></div></div>
<span class="abs" style="left:25px;top:406.7px;width:40px;height:40px;border-radius:50%;background:#f4f5fb"></span>
<span class="abs" style="left:35.0px;top:416.7px;width:20px;height:20px"><svg width="20" height="20" viewBox="0 0 20 20"><defs><linearGradient id="sfg" x1="0" y1="0" x2="0" y2="1"><stop offset="0" stop-color="#3aa0f3"/><stop offset="1" stop-color="#1d63d8"/></linearGradient></defs><circle cx="10" cy="10" r="9.7" fill="#d9dde6"/><circle cx="10" cy="10" r="8.7" fill="url(#sfg)"/><polygon points="15.4,4.6 8.8,8.8 11.2,11.200" fill="#f3453a"/><polygon points="4.6,15.4 8.8,8.8 11.2,11.2" fill="#f4f4f4"/></svg></span>
<span class="t" style="top:408.15px;font-size:14px;left:102.20px;color:#343b5e;letter-spacing:-0.130px;">Safari</span>
<span class="t" style="top:408.15px;font-size:14px;left:427.30px;letter-spacing:0.295px;-webkit-text-stroke:0.3px currentColor;">10,054</span>
<span class="t" style="top:409.84px;font-size:12px;left:476.60px;color:#09ad95;-webkit-text-stroke:0.3px currentColor;">(</span>
<svg class="ic" style="left:480.45px;top:411.05px;" width="9.5" height="9.5" viewBox="0 0 24 24" fill="none" stroke="#09ad95" stroke-width="2.4" stroke-linecap="round" stroke-linejoin="round"><line x1="12" y1="19" x2="12" y2="5"/><polyline points="5 12 12 5 19 12"/></svg>
<span class="t" style="top:409.84px;font-size:12px;left:491.00px;color:#09ad95;letter-spacing:0.055px;-webkit-text-stroke:0.3px currentColor;">11.04%)</span>
<div class="abs" style="left:102.2px;top:432.1px;width:432.5px;height:7.8px;border-radius:4px;background:#f3f4fa;overflow:hidden"><div style="width:40%;height:100%;background:#1170e4"></div></div>
<span class="abs" style="left:25px;top:471.4px;width:40px;height:40px;border-radius:50%;background:#f4f5fb"></span>
<span class="abs" style="left:35.0px;top:481.4px;width:20px;height:20px"><svg width="20" height="20" viewBox="0 0 20 20"><defs><clipPath id="nsc"><circle cx="10" cy="10" r="9.6"/></clipPath></defs><circle cx="10" cy="10" r="9.600" fill="#0f6a6e"/><g clip-path="url(#nsc)"><path d="M0 14.500C4 12.500 9 15.500 20 13V20H0z" fill="#0a0f14"/></g><text x="10" y="14.6" font-family="Liberation Serif, serif" font-size="14" font-weight="700" fill="#fff" text-anchor="middle">N</text></svg></span>
<span class="t" style="top:472.85px;font-size:14px;left:102.20px;color:#343b5e;letter-spacing:-0.020px;">Netscape</span>
<span class="t" style="top:472.85px;font-size:14px;left:427.30px;letter-spacing:0.295px;-webkit-text-stroke:0.3px currentColor;">35,502</span>
<span class="t" style="top:474.54px;font-size:12px;left:476.60px;color:#09ad95;-webkit-text-stroke:0.3px currentColor;">(</span>
<svg class="ic" style="left:480.45px;top:475.75px;" width="9.5" height="9.5" viewBox="0 0 24 24" fill="none" stroke="#09ad95" stroke-width="2.4" stroke-linecap="round" stroke-linejoin="round"><line x1="12" y1="19" x2="12" y2="5"/><polyline points="5 12 12 5 19 12"/></svg>
<span class="t" style="top:474.54px;font-size:12px;left:491.00px;color:#09ad95;letter-spacing:-0.072px;-webkit-text-stroke:0.3px currentColor;">12.75%)</span>
<div class="abs" style="left:102.2px;top:496.8px;width:432.5px;height:7.8px;border-radius:4px;background:#f3f4fa;overflow:hidden"><div style="width:30%;height:100%;background:#1dd871"></div></div>
</section>
<section class="card abs" style="left:172px;top:1396px;width:1728px;height:200px;border-bottom-left-radius:0;border-bottom-right-radius:0">
<div class="abs chead" style="left:0;top:0;width:1728px;height:64px"></div>
<h3 class="t" style="top:20.96px;font-size:16px;left:24.70px;letter-spacing:0.030px;-webkit-text-stroke:0.3px currentColor;">Product Sales</h3>
<span class="t" style="top:24.06px;font-size:16px;left:1283.20px;color:#6c5ffc;letter-spacing:0.367px;">All products</span>
<span class="t" style="top:24.06px;font-size:16px;left:1411.50px;letter-spacing:0.197px;">Shipped</span>
<span class="t" style="top:24.06px;font-size:16px;left:1512.40px;letter-spacing:0.054px;">Pending</span>
<span class="t" style="top:24.06px;font-size:16px;left:1611.80px;letter-spacing:0.094px;">Cancelled</span>
<span class="t" style="top:101.95px;font-size:14px;left:25.10px;letter-spacing:-0.158px;">Show</span>
<span class="abs" style="left:68.7px;top:89.4px;width:65px;height:40.5px;box-sizing:border-box;border:1px solid #e9edf4;border-radius:5px"></span>
<span class="t" style="top:101.95px;font-size:14px;left:86.50px;letter-spacing:0.461px;">10</span>
<svg class="ic" style="left:112.5px;top:106.5px" width="10" height="6" viewBox="0 0 10 6"><path d="M0.3 0.5h9.400L5 5.500z" fill="#5b6482"/></svg>
<span class="t" style="top:101.95px;font-size:14px;left:142.00px;letter-spacing:-0.011px;">Entries</span>
<span class="abs" style="left:1518.3px;top:91.2px;width:184.3px;height:39.5px;box-sizing:border-box;border:1px solid #e9edf4;border-radius:5px"></span>
<span class="t" style="top:104.80px;font-size:13px;left:1532.50px;color:#b3b8cb;letter-spacing:-0.115px;">Search...</span>
<span class="abs" style="left:25.3px;top:146.6px;width:1677.4px;height:1px;background:#e9edf4"></span>
<span class="abs" style="left:25.3px;top:146.6px;width:1px;height:20px;background:#e9edf4"></span>
<span class="abs" style="left:206.2px;top:146.6px;width:1px;height:20px;background:#e9edf4"></span>
<span class="abs" style="left:526.1px;top:146.6px;width:1px;height:20px;background:#e9edf4"></span>
<span class="abs" style="left:766.3px;top:146.6px;width:1px;height:20px;background:#e9edf4"></span>
<span class="abs" style="left:946.8px;top:146.6px;width:1px;height:20px;background:#e9edf4"></span>
<span class="abs" style="left:1117.3px;top:146.6px;width:1px;height:20px;background:#e9edf4"></span>
<span class="abs" style="left:1354.8px;top:146.6px;width:1px;height:20px;background:#e9edf4"></span>
<span class="abs" style="left:1537.2px;top:146.6px;width:1px;height:20px;background:#e9edf4"></span>
<span class="abs" style="left:1701.7px;top:146.6px;width:1px;height:20px;background:#e9edf4"></span>
</section>
<h1 class="t" style="top:101.97px;font-size:20px;left:173.60px;letter-spacing:0.154px;-webkit-text-stroke:0.52px currentColor;">Dashboard 01</h1>
<span class="t" style="top:104.57px;font-size:13.5px;left:1761.00px;color:#74829c;letter-spacing:-0.379px;">Home</span>
<span class="t" style="top:104.57px;font-size:13.5px;left:1803.00px;color:#c3c9d6;">/</span>
<span class="t" style="top:104.57px;font-size:13.5px;left:1817.00px;color:#6c5ffc;letter-spacing:-0.276px;">Dashboard 01</span>
</main>
<aside class="sidebar abs" style="left:0;top:0;width:152px;height:1551px">
<div class="abs logo" style="left:0;top:0;width:152px;height:75px">
<svg class="ic" style="left:26px;top:18px" width="36" height="40" viewBox="26 18 36 40"><g fill="#6c5ffc"><polygon points="29.2,28.8 46.4,20.2 46.4,25.5 29.2,34.2"/><polygon points="29.2,36.5 46.4,27.8 46.4,33.3 29.2,41.8"/><polygon points="30.3,43.9 36.8,40.4 36.8,48.4"/></g><g fill="#05c3fb"><polygon points="50.1,26.2 57.1,30.7 50.1,34.2"/><polygon points="40.8,41 58,32.5 58,38.1 40.8,46.7"/><polygon points="40.8,48.7 58,40 58,45.5 40.8,54.2"/></g></svg>
<span class="t" style="top:19.53px;font-size:29.5px;left:66.50px;color:#000;letter-spacing:-1.200px;">sash</span>
</div>
<nav>
<svg class="ic" style="left:66.00px;top:95.10px;" width="19" height="19" viewBox="0 0 24 24" fill="none" stroke="#6c5ffc" stroke-width="1.9" stroke-linecap="round" stroke-linejoin="round"><path d="M3 9l9-7 9 7v11a2 2 0 0 1-2 2H5a2 2 0 0 1-2-2z"/><polyline points="9 22 9 12 15 12 15 22"/></svg>
<span class="t" style="top:125.30px;font-size:15px;left:39.42px;color:#6c5ffc;letter-spacing:-0.155px;">Dashboard</span>
<svg class="ic" style="left:66.00px;top:178.90px;" width="19" height="19" viewBox="0 0 24 24" fill="none" stroke="#6c5ffc" stroke-width="1.9" stroke-linecap="round" stroke-linejoin="round"><path d="M22.08 9C19.81 1.41 16.54-.35 9 1.92S-.35 7.46 1.92 15 7.46 24.35 15 22.08 24.35 16.54 22.08 9z"/><line x1="12.57" y1="5.99" x2="16.15" y2="16.39"/><line x1="7.85" y1="7.61" x2="11.43" y2="18.01"/><line x1="16.39" y1="7.85" x2="5.99" y2="11.43"/><line x1="18.01" y1="12.57" x2="7.61" y2="16.15"/></svg>
<span class="t" style="top:209.00px;font-size:15px;left:58.70px;letter-spacing:-0.201px;">Apps</span>
<svg class="ic" style="left:66.00px;top:257.80px;" width="19" height="19" viewBox="0 0 24 24" fill="none" stroke="#6c5ffc" stroke-width="1.9" stroke-linecap="round" stroke-linejoin="round"><line x1="16.5" y1="9.4" x2="7.5" y2="4.21"/><path d="M21 16V8a2 2 0 0 0-1-1.73l-7-4a2 2 0 0 0-2 0l-7 4A2 2 0 0 0 3 8v8a2 2 0 0 0 1 1.73l7 4a2 2 0 0 0 2 0l7-4A2 2 0 0 0 21 16z"/><polyline points="3.27 6.96 12 12.01 20.73 6.96"/><line x1="12" y1="22.08" x2="12" y2="12"/></svg>
<span class="t" style="top:288.10px;font-size:15px;left:34.33px;letter-spacing:0.063px;">UI Elements</span>
<svg class="ic" style="left:66.00px;top:337.90px;" width="19" height="19" viewBox="0 0 24 24" fill="none" stroke="#6c5ffc" stroke-width="1.9" stroke-linecap="round" stroke-linejoin="round"><polygon points="13 2 3 14 12 14 11 22 21 10 12 10 13 2"/></svg>
<span class="t" style="top:368.30px;font-size:15px;left:50.33px;letter-spacing:0.251px;">Utilities</span>
<svg class="ic" style="left:66.00px;top:417.20px;" width="19" height="19" viewBox="0 0 24 24" fill="none" stroke="#6c5ffc" stroke-width="1.9" stroke-linecap="round" stroke-linejoin="round"><polygon points="12 2 2 7 12 12 22 7 12 2"/><polyline points="2 17 12 22 22 17"/><polyline points="2 12 12 17 22 12"/></svg>
<span class="t" style="top:446.70px;font-size:15px;left:55.57px;letter-spacing:-0.669px;">Pages</span>
<svg class="ic" style="left:66.00px;top:497.20px;" width="19" height="19" viewBox="0 0 24 24" fill="none" stroke="#6c5ffc" stroke-width="1.9" stroke-linecap="round" stroke-linejoin="round"><path d="M17 21v-2a4 4 0 0 0-4-4H5a4 4 0 0 0-4 4v2"/><circle cx="9" cy="7" r="4"/><path d="M23 21v-2a4 4 0 0 0-3-3.87"/><path d="M16 3.13a4 4 0 0 1 0 7.75"/></svg>
<span class="t" style="top:526.80px;font-size:15px;left:26.51px;letter-spacing:0.223px;">Authentication</span>
<svg class="ic" style="left:66.00px;top:575.80px;" width="19" height="19" viewBox="0 0 24 24" fill="none" stroke="#6c5ffc" stroke-width="1.9" stroke-linecap="round" stroke-linejoin="round"><path d="M10.29 3.86L1.82 18a2 2 0 0 0 1.71 3h16.94a2 2 0 0 0 1.71-3L13.71 3.86a2 2 0 0 0-3.42 0z"/><line x1="12" y1="9" x2="12" y2="13"/><line x1="12" y1="17" x2="12.01" y2="17"/></svg>
<span class="t" style="top:606.00px;font-size:15px;left:37.13px;letter-spacing:-0.332px;">Error Pages</span>
<svg class="ic" style="left:66.00px;top:655.70px;" width="19" height="19" viewBox="0 0 24 24" fill="none" stroke="#6c5ffc" stroke-width="1.9" stroke-linecap="round" stroke-linejoin="round"><path d="M14 2H6a2 2 0 0 0-2 2v16a2 2 0 0 0 2 2h12a2 2 0 0 0 2-2V8z"/><polyline points="14 2 14 8 20 8"/><line x1="16" y1="13" x2="8" y2="13"/><line x1="16" y1="17" x2="8" y2="17"/><polyline points="10 9 9 9 8 9"/></svg>
<span class="t" style="top:685.00px;font-size:15px;left:54.85px;letter-spacing:-0.300px;">Forms</span>
<svg class="ic" style="left:66.00px;top:735.10px;" width="19" height="19" viewBox="0 0 24 24" fill="none" stroke="#6c5ffc" stroke-width="1.9" stroke-linecap="round" stroke-linejoin="round"><rect x="4" y="4" width="16" height="16" rx="2" ry="2"/><rect x="9" y="9" width="6" height="6"/><line x1="9" y1="1" x2="9" y2="4"/><line x1="15" y1="1" x2="15" y2="4"/><line x1="9" y1="20" x2="9" y2="23"/><line x1="15" y1="20" x2="15" y2="23"/><line x1="20" y1="9" x2="23" y2="9"/><line x1="20" y1="14" x2="23" y2="14"/><line x1="1" y1="9" x2="4" y2="9"/><line x1="1" y1="14" x2="4" y2="14"/></svg>
<span class="t" style="top:765.10px;font-size:15px;left:33.63px;letter-spacing:-0.133px;">Advanced Ui</span>
<svg class="ic" style="left:66.00px;top:814.80px;" width="19" height="19" viewBox="0 0 24 24" fill="none" stroke="#6c5ffc" stroke-width="1.9" stroke-linecap="round" stroke-linejoin="round"><circle cx="12" cy="12" r="10"/><line x1="14.31" y1="8" x2="20.05" y2="17.94"/><line x1="9.69" y1="8" x2="21.17" y2="8"/><line x1="7.38" y1="12" x2="13.12" y2="2.06"/><line x1="9.69" y1="16" x2="3.95" y2="6.06"/><line x1="14.31" y1="16" x2="2.83" y2="16"/><line x1="16.62" y1="12" x2="10.88" y2="21.94"/></svg>
<span class="t" style="top:845.10px;font-size:15px;left:28.30px;letter-spacing:-0.084px;">Widgets</span>
<span class="abs" style="left:90px;top:844px;width:33px;height:19px;border-radius:4px;background:#fdeaed"></span>
<span class="t" style="top:849.19px;font-size:11px;left:97.60px;color:#e82646;letter-spacing:0.292px;-webkit-text-stroke:0.34px currentColor;">Hot</span>
<svg class="ic" style="left:66.00px;top:897.80px;" width="19" height="19" viewBox="0 0 24 24" fill="none" stroke="#6c5ffc" stroke-width="1.9" stroke-linecap="round" stroke-linejoin="round"><rect x="3" y="3" width="7" height="7"/><rect x="14" y="3" width="7" height="7"/><rect x="14" y="14" width="7" height="7"/><rect x="3" y="14" width="7" height="7"/></svg>
<span class="t" style="top:928.10px;font-size:15px;left:31.40px;letter-spacing:-0.102px;">Nested Menu</span>
<svg class="ic" style="left:66.00px;top:977.80px;" width="19" height="19" viewBox="0 0 24 24" fill="none" stroke="#6c5ffc" stroke-width="1.9" stroke-linecap="round" stroke-linejoin="round"><rect x="3" y="3" width="18" height="18" rx="2" ry="2"/><line x1="3" y1="9" x2="21" y2="9"/><line x1="9" y1="21" x2="9" y2="9"/></svg>
<span class="t" style="top:1007.60px;font-size:15px;left:53.97px;letter-spacing:-0.060px;">Tables</span>
<svg class="ic" style="left:66.00px;top:1056.90px;" width="19" height="19" viewBox="0 0 24 24" fill="none" stroke="#6c5ffc" stroke-width="1.9" stroke-linecap="round" stroke-linejoin="round"><line x1="18" y1="20" x2="18" y2="10"/><line x1="12" y1="20" x2="12" y2="4"/><line x1="6" y1="20" x2="6" y2="14"/></svg>
<span class="t" style="top:1087.10px;font-size:15px;left:53.73px;letter-spacing:-0.131px;">Charts</span>
<svg class="ic" style="left:66.00px;top:1136.90px;" width="19" height="19" viewBox="0 0 24 24" fill="none" stroke="#6c5ffc" stroke-width="1.9" stroke-linecap="round" stroke-linejoin="round"><path d="M21 10c0 7-9 13-9 13s-9-6-9-13a9 9 0 0 1 18 0z"/><circle cx="12" cy="10" r="3"/></svg>
<span class="t" style="top:1167.20px;font-size:15px;left:57.83px;letter-spacing:-0.447px;">Maps</span>
<svg class="ic" style="left:66.00px;top:1216.10px;" width="19" height="19" viewBox="0 0 24 24" fill="none" stroke="#6c5ffc" stroke-width="1.9" stroke-linecap="round" stroke-linejoin="round"><path d="M9.59 4.59A2 2 0 1 1 11 8H2m10.59 11.41A2 2 0 1 0 14 16H2m15.73-8.27A2.5 2.5 0 1 1 19.5 12H2"/></svg>
<span class="t" style="top:1246.20px;font-size:15px;left:57.23px;letter-spacing:0.168px;">Icons</span>
</nav></aside>
<header class="abs hdr" style="left:152px;top:0;width:1768px;height:75px">
</header>
<svg class="ic" style="left:177.00px;top:25.70px;" width="21" height="21" viewBox="0 0 24 24" fill="none" stroke="#5e50f0" stroke-width="2.1" stroke-linecap="round" stroke-linejoin="round"><line x1="18" y1="6" x2="6" y2="18"/><line x1="6" y1="6" x2="18" y2="18"/></svg>
<div class="abs" style="left:221.3px;top:16.5px;width:349px;height:41px;box-sizing:border-box;border:1px solid #eceef8;border-radius:6px;background:#fff"></div>
<span class="t" style="top:31.20px;font-size:13px;left:236.00px;color:#b5aefd;letter-spacing:0.061px;">Search for results...</span>
<svg class="ic" style="left:542.50px;top:28.30px;" width="15" height="15" viewBox="0 0 24 24" fill="none" stroke="#8a80fc" stroke-width="2.1" stroke-linecap="round" stroke-linejoin="round"><circle cx="11" cy="11" r="8"/><line x1="21" y1="21" x2="16.65" y2="16.65"/></svg>
<svg class="ic" style="left:1401.9px;top:26.9px" width="20" height="20" viewBox="0 0 20 20"><defs><clipPath id="fc"><circle cx="10" cy="10" r="10"/></clipPath></defs><g clip-path="url(#fc)"><rect x="0" y="0.00" width="20" height="1.54" fill="#f0505c"/><rect x="0" y="1.54" width="20" height="1.54" fill="#fdf0f0"/><rect x="0" y="3.08" width="20" height="1.54" fill="#f0505c"/><rect x="0" y="4.62" width="20" height="1.54" fill="#fdf0f0"/><rect x="0" y="6.15" width="20" height="1.54" fill="#f0505c"/><rect x="0" y="7.69" width="20" height="1.54" fill="#fdf0f0"/><rect x="0" y="9.23" width="20" height="1.54" fill="#f0505c"/><rect x="0" y="10.77" width="20" height="1.54" fill="#fdf0f0"/><rect x="0" y="12.31" width="20" height="1.54" fill="#f0505c"/><rect x="0" y="13.85" width="20" height="1.54" fill="#fdf0f0"/><rect x="0" y="15.38" width="20" height="1.54" fill="#f0505c"/><rect x="0" y="16.92" width="20" height="1.54" fill="#fdf0f0"/><rect x="0" y="18.46" width="20" height="1.54" fill="#f0505c"/><rect x="0" y="0" width="9.6" height="10.8" fill="#5d62a3"/><g fill="#c9cbe6"><circle cx="1.20" cy="1.60" r="0.42"/><circle cx="1.20" cy="3.40" r="0.42"/><circle cx="1.20" cy="5.20" r="0.42"/><circle cx="1.20" cy="7.00" r="0.42"/><circle cx="1.20" cy="8.80" r="0.42"/><circle cx="2.95" cy="1.60" r="0.42"/><circle cx="2.95" cy="3.40" r="0.42"/><circle cx="2.95" cy="5.20" r="0.42"/><circle cx="2.95" cy="7.00" r="0.42"/><circle cx="2.95" cy="8.80" r="0.42"/><circle cx="4.70" cy="1.60" r="0.42"/><circle cx="4.70" cy="3.40" r="0.42"/><circle cx="4.70" cy="5.20" r="0.42"/><circle cx="4.70" cy="7.00" r="0.42"/><circle cx="4.70" cy="8.80" r="0.42"/><circle cx="6.45" cy="1.60" r="0.42"/><circle cx="6.45" cy="3.40" r="0.42"/><circle cx="6.45" cy="5.20" r="0.42"/><circle cx="6.45" cy="7.00" r="0.42"/><circle cx="6.45" cy="8.80" r="0.42"/><circle cx="8.20" cy="1.60" r="0.42"/><circle cx="8.20" cy="3.40" r="0.42"/><circle cx="8.20" cy="5.20" r="0.42"/><circle cx="8.20" cy="7.00" r="0.42"/><circle cx="8.20" cy="8.80" r="0.42"/></g></g></svg>
<svg class="ic" style="left:1446.50px;top:25.50px;" width="20.2" height="20.2" viewBox="0 0 24 24" fill="none" stroke="#6c5ffc" stroke-width="1.8" stroke-linecap="round" stroke-linejoin="round"><path d="M21 12.79A9 9 0 1 1 11.21 3 7 7 0 0 0 21 12.79z"/></svg>
<svg class="ic" style="left:1495.80px;top:28.70px;" width="19.8" height="19.8" viewBox="0 0 24 24" fill="none" stroke="#6c5ffc" stroke-width="1.8" stroke-linecap="round" stroke-linejoin="round"><circle cx="9" cy="21" r="1"/><circle cx="20" cy="21" r="1"/><path d="M1 1h4l2.68 13.39a2 2 0 0 0 2 1.61h9.72a2 2 0 0 0 2-1.61L23 6H6"/></svg>
<span class="abs" style="left:1508px;top:16px;width:14.4px;height:14.4px;border-radius:50%;background:#05c3fb"></span>
<span class="t" style="top:18.56px;font-size:9.5px;left:1512.55px;color:#fff;-webkit-text-stroke:0.31px currentColor;">4</span>
<svg class="ic" style="left:1543px;top:28px" width="24" height="22" viewBox="1543 28 24 22" fill="none" stroke="#6c5ffc" stroke-width="1.6" stroke-linecap="round" stroke-linejoin="round"><path d="M1545.4,42.9H1563M1547.9,42.9C1549.300,40.5 1548.6,38.500 1548.8,36.2a5.400,5.400 0 0 1 10.800,0C1559.800,38.500 1559.100,40.500 1560.500,42.900M1552.3,45.600a2.400,2.400 0 0 0 3.800,0"/></svg>
<span class="abs" style="left:1552.9px;top:18.5px;width:9.2px;height:9.2px;border-radius:50%;background:#09ad95"></span>
<svg class="ic" style="left:1592.85px;top:28.65px;" width="20.3" height="20.3" viewBox="0 0 24 24" fill="none" stroke="#6c5ffc" stroke-width="1.8" stroke-linecap="round" stroke-linejoin="round"><path d="M21 15a2 2 0 0 1-2 2H7l-4 4V5a2 2 0 0 1 2-2h14a2 2 0 0 1 2 2z"/></svg>
<span class="abs" style="left:1601.9px;top:18.5px;width:9.2px;height:9.2px;border-radius:50%;background:#e82646"></span>
<svg class="ic" style="left:1641.50px;top:28.40px;" width="20.6" height="20.6" viewBox="0 0 24 24" fill="none" stroke="#6c5ffc" stroke-width="1.8" stroke-linecap="round" stroke-linejoin="round"><path d="M8 3v3a2 2 0 0 1-2 2H3m18 0h-3a2 2 0 0 1-2-2V3m0 18v-3a2 2 0 0 1 2-2h3M3 16h3a2 2 0 0 1 2 2v3"/></svg>
<svg class="ic" style="left:1690.20px;top:28.20px;" width="21" height="21" viewBox="0 0 24 24" fill="none" stroke="#6c5ffc" stroke-width="1.6" stroke-linecap="round" stroke-linejoin="round"><line x1="21" y1="10" x2="7" y2="10"/><line x1="21" y1="6" x2="3" y2="6"/><line x1="21" y1="14" x2="3" y2="14"/><line x1="21" y1="18" x2="7" y2="18"/></svg>
<svg class="ic" style="left:1735px;top:20.7px" width="32" height="32" viewBox="0 0 32 32"><defs><clipPath id="av"><circle cx="16" cy="16" r="16"/></clipPath><filter id="avb" x="-20%" y="-20%" width="140%" height="140%"><feGaussianBlur stdDeviation="0.75"/></filter><linearGradient id="avh" x1="0" y1="0" x2="1" y2="0"><stop offset="0" stop-color="#b89b76"/><stop offset="0.45" stop-color="#8d7258"/><stop offset="1" stop-color="#6a5544"/></linearGradient></defs><g clip-path="url(#av)"><rect width="32" height="32" fill="#f0ebe0"/><g filter="url(#avb)"><ellipse cx="2" cy="12" rx="3" ry="4" fill="#c9cf9a"/><rect x="0" y="17" width="9" height="15" fill="#d8d2c4"/><path d="M23 13l4-8 5 9v9h-9z" fill="#b9ae9e"/><rect x="24" y="18" width="8" height="10" fill="#e4ddd0"/><path d="M7 32C6.500 24 6.500 14 9 8c2-5 5-7.500 8.500-7.500C22 .5 25 5 26 11c1 7 2.500 14 2.500 21z" fill="url(#avh)"/><path d="M8.500 30C8 22 8.500 13 11 7c1-2 2-3 3-3.500C13 9 13.500 20 12.500 30z" fill="#c2a680"/><ellipse cx="16.500" cy="3.600" rx="5" ry="2.600" fill="#4f3c31"/><path d="M14.300 16.500L13.800 23 11 32H23.500L20.800 24 20.300 16.500z" fill="#cfae9a"/><ellipse cx="17" cy="12.600" rx="4.300" ry="6" fill="#dcbca6"/><ellipse cx="15.200" cy="10.800" rx="1.200" ry=".55" fill="#5d463e" opacity=".75"/><ellipse cx="19" cy="10.800" rx="1.200" ry=".55" fill="#5d463e" opacity=".75"/><ellipse cx="17.200" cy="16.200" rx="1.300" ry=".5" fill="#b47f73"/><path d="M20.800 13.500C22 18 21.500 24 21 27l3 5h4.500C28.500 24 27 15 25 9c-1 2-2.500 3.500-4.200 4.500z" fill="#5b4739"/></g></g></svg>
<span class="t" style="top:22.05px;font-size:14px;left:1775.10px;letter-spacing:0.240px;-webkit-text-stroke:0.4px currentColor;">Json Taylor</span>
<span class="t" style="top:39.09px;font-size:11px;left:1775.10px;color:#a4a9bf;letter-spacing:-0.175px;">Web Designer</span>
<svg class="ic" style="left:1872.60px;top:26.20px" width="22" height="22" viewBox="0 0 22 22" fill="none" stroke="#6c5ffc" stroke-width="1.85" stroke-linejoin="round"><path d="M11.00,3.87L11.47,3.90L11.92,4.01L12.33,4.29L12.64,4.87L12.88,5.45L13.16,5.78L13.47,5.99L13.79,6.18L14.10,6.36L14.44,6.52L14.86,6.60L15.49,6.51L16.14,6.49L16.60,6.71L16.92,7.05L17.17,7.43L17.38,7.85L17.52,8.30L17.48,8.80L17.13,9.36L16.75,9.86L16.60,10.26L16.57,10.63L16.57,11.00L16.57,11.37L16.60,11.74L16.75,12.14L17.13,12.64L17.48,13.20L17.52,13.70L17.38,14.15L17.17,14.56L16.92,14.95L16.60,15.29L16.14,15.51L15.49,15.49L14.86,15.40L14.44,15.48L14.10,15.64L13.79,15.82L13.47,16.01L13.16,16.22L12.88,16.55L12.64,17.13L12.33,17.71L11.92,17.99L11.47,18.10L11.00,18.13L10.53,18.10L10.08,17.99L9.67,17.71L9.36,17.13L9.12,16.55L8.84,16.22L8.53,16.01L8.22,15.82L7.90,15.64L7.56,15.48L7.14,15.40L6.51,15.49L5.86,15.51L5.40,15.29L5.08,14.95L4.83,14.57L4.62,14.15L4.48,13.70L4.52,13.20L4.87,12.64L5.25,12.14L5.40,11.74L5.43,11.37L5.43,11.00L5.43,10.63L5.40,10.26L5.25,9.86L4.87,9.36L4.52,8.80L4.48,8.30L4.62,7.85L4.83,7.43L5.08,7.05L5.40,6.71L5.86,6.49L6.51,6.51L7.14,6.60L7.56,6.52L7.90,6.36L8.21,6.18L8.53,5.99L8.84,5.78L9.12,5.45L9.36,4.87L9.67,4.29L10.08,4.01L10.53,3.90Z"/><circle cx="11" cy="11" r="2.5"/></svg>
</body></html>
